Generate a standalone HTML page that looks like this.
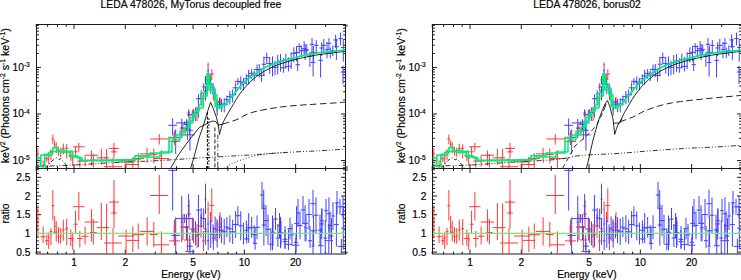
<!DOCTYPE html>
<html><head><meta charset="utf-8"><style>
html,body{margin:0;padding:0;background:#fff;}
svg{display:block;font-family:"Liberation Sans",sans-serif;}
text{fill:#000;stroke:#000;stroke-width:0.18px;}
</style></head><body>
<svg width="741" height="280" viewBox="0 0 741 280">
<rect width="741" height="280" fill="#fff"/>
<rect x="36.5" y="24.5" width="309.0" height="229.5" fill="none" stroke="#1a1a1a" stroke-width="1"/>
<line x1="36.50" y1="168.50" x2="345.50" y2="168.50" stroke="#1a1a1a" stroke-width="1"/>
<line x1="36.21" y1="24.50" x2="36.21" y2="26.90" stroke="#1a1a1a" stroke-width="1"/>
<line x1="36.21" y1="168.50" x2="36.21" y2="166.10" stroke="#1a1a1a" stroke-width="1"/>
<line x1="36.21" y1="168.50" x2="36.21" y2="170.90" stroke="#1a1a1a" stroke-width="1"/>
<line x1="36.21" y1="254.00" x2="36.21" y2="251.60" stroke="#1a1a1a" stroke-width="1"/>
<line x1="47.61" y1="24.50" x2="47.61" y2="26.90" stroke="#1a1a1a" stroke-width="1"/>
<line x1="47.61" y1="168.50" x2="47.61" y2="166.10" stroke="#1a1a1a" stroke-width="1"/>
<line x1="47.61" y1="168.50" x2="47.61" y2="170.90" stroke="#1a1a1a" stroke-width="1"/>
<line x1="47.61" y1="254.00" x2="47.61" y2="251.60" stroke="#1a1a1a" stroke-width="1"/>
<line x1="57.49" y1="24.50" x2="57.49" y2="26.90" stroke="#1a1a1a" stroke-width="1"/>
<line x1="57.49" y1="168.50" x2="57.49" y2="166.10" stroke="#1a1a1a" stroke-width="1"/>
<line x1="57.49" y1="168.50" x2="57.49" y2="170.90" stroke="#1a1a1a" stroke-width="1"/>
<line x1="57.49" y1="254.00" x2="57.49" y2="251.60" stroke="#1a1a1a" stroke-width="1"/>
<line x1="66.21" y1="24.50" x2="66.21" y2="26.90" stroke="#1a1a1a" stroke-width="1"/>
<line x1="66.21" y1="168.50" x2="66.21" y2="166.10" stroke="#1a1a1a" stroke-width="1"/>
<line x1="66.21" y1="168.50" x2="66.21" y2="170.90" stroke="#1a1a1a" stroke-width="1"/>
<line x1="66.21" y1="254.00" x2="66.21" y2="251.60" stroke="#1a1a1a" stroke-width="1"/>
<line x1="74.00" y1="24.50" x2="74.00" y2="29.00" stroke="#1a1a1a" stroke-width="1"/>
<line x1="74.00" y1="168.50" x2="74.00" y2="164.00" stroke="#1a1a1a" stroke-width="1"/>
<line x1="74.00" y1="168.50" x2="74.00" y2="173.00" stroke="#1a1a1a" stroke-width="1"/>
<line x1="74.00" y1="254.00" x2="74.00" y2="249.50" stroke="#1a1a1a" stroke-width="1"/>
<line x1="125.28" y1="24.50" x2="125.28" y2="29.00" stroke="#1a1a1a" stroke-width="1"/>
<line x1="125.28" y1="168.50" x2="125.28" y2="164.00" stroke="#1a1a1a" stroke-width="1"/>
<line x1="125.28" y1="168.50" x2="125.28" y2="173.00" stroke="#1a1a1a" stroke-width="1"/>
<line x1="125.28" y1="254.00" x2="125.28" y2="249.50" stroke="#1a1a1a" stroke-width="1"/>
<line x1="155.28" y1="24.50" x2="155.28" y2="26.90" stroke="#1a1a1a" stroke-width="1"/>
<line x1="155.28" y1="168.50" x2="155.28" y2="166.10" stroke="#1a1a1a" stroke-width="1"/>
<line x1="155.28" y1="168.50" x2="155.28" y2="170.90" stroke="#1a1a1a" stroke-width="1"/>
<line x1="155.28" y1="254.00" x2="155.28" y2="251.60" stroke="#1a1a1a" stroke-width="1"/>
<line x1="176.56" y1="24.50" x2="176.56" y2="26.90" stroke="#1a1a1a" stroke-width="1"/>
<line x1="176.56" y1="168.50" x2="176.56" y2="166.10" stroke="#1a1a1a" stroke-width="1"/>
<line x1="176.56" y1="168.50" x2="176.56" y2="170.90" stroke="#1a1a1a" stroke-width="1"/>
<line x1="176.56" y1="254.00" x2="176.56" y2="251.60" stroke="#1a1a1a" stroke-width="1"/>
<line x1="193.07" y1="24.50" x2="193.07" y2="29.00" stroke="#1a1a1a" stroke-width="1"/>
<line x1="193.07" y1="168.50" x2="193.07" y2="164.00" stroke="#1a1a1a" stroke-width="1"/>
<line x1="193.07" y1="168.50" x2="193.07" y2="173.00" stroke="#1a1a1a" stroke-width="1"/>
<line x1="193.07" y1="254.00" x2="193.07" y2="249.50" stroke="#1a1a1a" stroke-width="1"/>
<line x1="206.56" y1="24.50" x2="206.56" y2="26.90" stroke="#1a1a1a" stroke-width="1"/>
<line x1="206.56" y1="168.50" x2="206.56" y2="166.10" stroke="#1a1a1a" stroke-width="1"/>
<line x1="206.56" y1="168.50" x2="206.56" y2="170.90" stroke="#1a1a1a" stroke-width="1"/>
<line x1="206.56" y1="254.00" x2="206.56" y2="251.60" stroke="#1a1a1a" stroke-width="1"/>
<line x1="217.96" y1="24.50" x2="217.96" y2="26.90" stroke="#1a1a1a" stroke-width="1"/>
<line x1="217.96" y1="168.50" x2="217.96" y2="166.10" stroke="#1a1a1a" stroke-width="1"/>
<line x1="217.96" y1="168.50" x2="217.96" y2="170.90" stroke="#1a1a1a" stroke-width="1"/>
<line x1="217.96" y1="254.00" x2="217.96" y2="251.60" stroke="#1a1a1a" stroke-width="1"/>
<line x1="227.84" y1="24.50" x2="227.84" y2="26.90" stroke="#1a1a1a" stroke-width="1"/>
<line x1="227.84" y1="168.50" x2="227.84" y2="166.10" stroke="#1a1a1a" stroke-width="1"/>
<line x1="227.84" y1="168.50" x2="227.84" y2="170.90" stroke="#1a1a1a" stroke-width="1"/>
<line x1="227.84" y1="254.00" x2="227.84" y2="251.60" stroke="#1a1a1a" stroke-width="1"/>
<line x1="236.56" y1="24.50" x2="236.56" y2="26.90" stroke="#1a1a1a" stroke-width="1"/>
<line x1="236.56" y1="168.50" x2="236.56" y2="166.10" stroke="#1a1a1a" stroke-width="1"/>
<line x1="236.56" y1="168.50" x2="236.56" y2="170.90" stroke="#1a1a1a" stroke-width="1"/>
<line x1="236.56" y1="254.00" x2="236.56" y2="251.60" stroke="#1a1a1a" stroke-width="1"/>
<line x1="244.35" y1="24.50" x2="244.35" y2="29.00" stroke="#1a1a1a" stroke-width="1"/>
<line x1="244.35" y1="168.50" x2="244.35" y2="164.00" stroke="#1a1a1a" stroke-width="1"/>
<line x1="244.35" y1="168.50" x2="244.35" y2="173.00" stroke="#1a1a1a" stroke-width="1"/>
<line x1="244.35" y1="254.00" x2="244.35" y2="249.50" stroke="#1a1a1a" stroke-width="1"/>
<line x1="295.63" y1="24.50" x2="295.63" y2="29.00" stroke="#1a1a1a" stroke-width="1"/>
<line x1="295.63" y1="168.50" x2="295.63" y2="164.00" stroke="#1a1a1a" stroke-width="1"/>
<line x1="295.63" y1="168.50" x2="295.63" y2="173.00" stroke="#1a1a1a" stroke-width="1"/>
<line x1="295.63" y1="254.00" x2="295.63" y2="249.50" stroke="#1a1a1a" stroke-width="1"/>
<line x1="325.63" y1="24.50" x2="325.63" y2="26.90" stroke="#1a1a1a" stroke-width="1"/>
<line x1="325.63" y1="168.50" x2="325.63" y2="166.10" stroke="#1a1a1a" stroke-width="1"/>
<line x1="325.63" y1="168.50" x2="325.63" y2="170.90" stroke="#1a1a1a" stroke-width="1"/>
<line x1="325.63" y1="254.00" x2="325.63" y2="251.60" stroke="#1a1a1a" stroke-width="1"/>
<line x1="346.91" y1="24.50" x2="346.91" y2="26.90" stroke="#1a1a1a" stroke-width="1"/>
<line x1="346.91" y1="168.50" x2="346.91" y2="166.10" stroke="#1a1a1a" stroke-width="1"/>
<line x1="346.91" y1="168.50" x2="346.91" y2="170.90" stroke="#1a1a1a" stroke-width="1"/>
<line x1="346.91" y1="254.00" x2="346.91" y2="251.60" stroke="#1a1a1a" stroke-width="1"/>
<text x="74.00" y="265.70" text-anchor="middle" font-size="10.2" >1</text>
<text x="125.28" y="265.70" text-anchor="middle" font-size="10.2" >2</text>
<text x="193.07" y="265.70" text-anchor="middle" font-size="10.2" >5</text>
<text x="244.35" y="265.70" text-anchor="middle" font-size="10.2" >10</text>
<text x="295.63" y="265.70" text-anchor="middle" font-size="10.2" >20</text>
<text x="191.00" y="277.80" text-anchor="middle" font-size="10.2" >Energy (keV)</text>
<text x="191.00" y="7.80" text-anchor="middle" font-size="10.4" >LEDA 478026, MyTorus decoupled free</text>
<line x1="36.50" y1="167.76" x2="38.90" y2="167.76" stroke="#1a1a1a" stroke-width="1"/>
<line x1="345.50" y1="167.76" x2="343.10" y2="167.76" stroke="#1a1a1a" stroke-width="1"/>
<line x1="36.50" y1="165.06" x2="38.90" y2="165.06" stroke="#1a1a1a" stroke-width="1"/>
<line x1="345.50" y1="165.06" x2="343.10" y2="165.06" stroke="#1a1a1a" stroke-width="1"/>
<line x1="36.50" y1="162.68" x2="38.90" y2="162.68" stroke="#1a1a1a" stroke-width="1"/>
<line x1="345.50" y1="162.68" x2="343.10" y2="162.68" stroke="#1a1a1a" stroke-width="1"/>
<line x1="36.50" y1="160.55" x2="41.00" y2="160.55" stroke="#1a1a1a" stroke-width="1"/>
<line x1="345.50" y1="160.55" x2="341.00" y2="160.55" stroke="#1a1a1a" stroke-width="1"/>
<line x1="36.50" y1="146.54" x2="38.90" y2="146.54" stroke="#1a1a1a" stroke-width="1"/>
<line x1="345.50" y1="146.54" x2="343.10" y2="146.54" stroke="#1a1a1a" stroke-width="1"/>
<line x1="36.50" y1="138.34" x2="38.90" y2="138.34" stroke="#1a1a1a" stroke-width="1"/>
<line x1="345.50" y1="138.34" x2="343.10" y2="138.34" stroke="#1a1a1a" stroke-width="1"/>
<line x1="36.50" y1="132.52" x2="38.90" y2="132.52" stroke="#1a1a1a" stroke-width="1"/>
<line x1="345.50" y1="132.52" x2="343.10" y2="132.52" stroke="#1a1a1a" stroke-width="1"/>
<line x1="36.50" y1="128.01" x2="38.90" y2="128.01" stroke="#1a1a1a" stroke-width="1"/>
<line x1="345.50" y1="128.01" x2="343.10" y2="128.01" stroke="#1a1a1a" stroke-width="1"/>
<line x1="36.50" y1="124.33" x2="38.90" y2="124.33" stroke="#1a1a1a" stroke-width="1"/>
<line x1="345.50" y1="124.33" x2="343.10" y2="124.33" stroke="#1a1a1a" stroke-width="1"/>
<line x1="36.50" y1="121.21" x2="38.90" y2="121.21" stroke="#1a1a1a" stroke-width="1"/>
<line x1="345.50" y1="121.21" x2="343.10" y2="121.21" stroke="#1a1a1a" stroke-width="1"/>
<line x1="36.50" y1="118.51" x2="38.90" y2="118.51" stroke="#1a1a1a" stroke-width="1"/>
<line x1="345.50" y1="118.51" x2="343.10" y2="118.51" stroke="#1a1a1a" stroke-width="1"/>
<line x1="36.50" y1="116.13" x2="38.90" y2="116.13" stroke="#1a1a1a" stroke-width="1"/>
<line x1="345.50" y1="116.13" x2="343.10" y2="116.13" stroke="#1a1a1a" stroke-width="1"/>
<line x1="36.50" y1="114.00" x2="41.00" y2="114.00" stroke="#1a1a1a" stroke-width="1"/>
<line x1="345.50" y1="114.00" x2="341.00" y2="114.00" stroke="#1a1a1a" stroke-width="1"/>
<line x1="36.50" y1="99.99" x2="38.90" y2="99.99" stroke="#1a1a1a" stroke-width="1"/>
<line x1="345.50" y1="99.99" x2="343.10" y2="99.99" stroke="#1a1a1a" stroke-width="1"/>
<line x1="36.50" y1="91.79" x2="38.90" y2="91.79" stroke="#1a1a1a" stroke-width="1"/>
<line x1="345.50" y1="91.79" x2="343.10" y2="91.79" stroke="#1a1a1a" stroke-width="1"/>
<line x1="36.50" y1="85.97" x2="38.90" y2="85.97" stroke="#1a1a1a" stroke-width="1"/>
<line x1="345.50" y1="85.97" x2="343.10" y2="85.97" stroke="#1a1a1a" stroke-width="1"/>
<line x1="36.50" y1="81.46" x2="38.90" y2="81.46" stroke="#1a1a1a" stroke-width="1"/>
<line x1="345.50" y1="81.46" x2="343.10" y2="81.46" stroke="#1a1a1a" stroke-width="1"/>
<line x1="36.50" y1="77.78" x2="38.90" y2="77.78" stroke="#1a1a1a" stroke-width="1"/>
<line x1="345.50" y1="77.78" x2="343.10" y2="77.78" stroke="#1a1a1a" stroke-width="1"/>
<line x1="36.50" y1="74.66" x2="38.90" y2="74.66" stroke="#1a1a1a" stroke-width="1"/>
<line x1="345.50" y1="74.66" x2="343.10" y2="74.66" stroke="#1a1a1a" stroke-width="1"/>
<line x1="36.50" y1="71.96" x2="38.90" y2="71.96" stroke="#1a1a1a" stroke-width="1"/>
<line x1="345.50" y1="71.96" x2="343.10" y2="71.96" stroke="#1a1a1a" stroke-width="1"/>
<line x1="36.50" y1="69.58" x2="38.90" y2="69.58" stroke="#1a1a1a" stroke-width="1"/>
<line x1="345.50" y1="69.58" x2="343.10" y2="69.58" stroke="#1a1a1a" stroke-width="1"/>
<line x1="36.50" y1="67.45" x2="41.00" y2="67.45" stroke="#1a1a1a" stroke-width="1"/>
<line x1="345.50" y1="67.45" x2="341.00" y2="67.45" stroke="#1a1a1a" stroke-width="1"/>
<line x1="36.50" y1="53.44" x2="38.90" y2="53.44" stroke="#1a1a1a" stroke-width="1"/>
<line x1="345.50" y1="53.44" x2="343.10" y2="53.44" stroke="#1a1a1a" stroke-width="1"/>
<line x1="36.50" y1="45.24" x2="38.90" y2="45.24" stroke="#1a1a1a" stroke-width="1"/>
<line x1="345.50" y1="45.24" x2="343.10" y2="45.24" stroke="#1a1a1a" stroke-width="1"/>
<line x1="36.50" y1="39.42" x2="38.90" y2="39.42" stroke="#1a1a1a" stroke-width="1"/>
<line x1="345.50" y1="39.42" x2="343.10" y2="39.42" stroke="#1a1a1a" stroke-width="1"/>
<line x1="36.50" y1="34.91" x2="38.90" y2="34.91" stroke="#1a1a1a" stroke-width="1"/>
<line x1="345.50" y1="34.91" x2="343.10" y2="34.91" stroke="#1a1a1a" stroke-width="1"/>
<line x1="36.50" y1="31.23" x2="38.90" y2="31.23" stroke="#1a1a1a" stroke-width="1"/>
<line x1="345.50" y1="31.23" x2="343.10" y2="31.23" stroke="#1a1a1a" stroke-width="1"/>
<line x1="36.50" y1="28.11" x2="38.90" y2="28.11" stroke="#1a1a1a" stroke-width="1"/>
<line x1="345.50" y1="28.11" x2="343.10" y2="28.11" stroke="#1a1a1a" stroke-width="1"/>
<line x1="36.50" y1="25.41" x2="38.90" y2="25.41" stroke="#1a1a1a" stroke-width="1"/>
<line x1="345.50" y1="25.41" x2="343.10" y2="25.41" stroke="#1a1a1a" stroke-width="1"/>
<text x="29.70" y="70.65" text-anchor="end" font-size="10.2">10<tspan font-size="6.6" dy="-3.4">-3</tspan></text>
<text x="29.70" y="117.20" text-anchor="end" font-size="10.2">10<tspan font-size="6.6" dy="-3.4">-4</tspan></text>
<text x="29.70" y="163.75" text-anchor="end" font-size="10.2">10<tspan font-size="6.6" dy="-3.4">-5</tspan></text>
<line x1="36.50" y1="252.10" x2="41.00" y2="252.10" stroke="#1a1a1a" stroke-width="1"/>
<line x1="345.50" y1="252.10" x2="341.00" y2="252.10" stroke="#1a1a1a" stroke-width="1"/>
<line x1="36.50" y1="248.36" x2="38.90" y2="248.36" stroke="#1a1a1a" stroke-width="1"/>
<line x1="345.50" y1="248.36" x2="343.10" y2="248.36" stroke="#1a1a1a" stroke-width="1"/>
<line x1="36.50" y1="244.62" x2="38.90" y2="244.62" stroke="#1a1a1a" stroke-width="1"/>
<line x1="345.50" y1="244.62" x2="343.10" y2="244.62" stroke="#1a1a1a" stroke-width="1"/>
<line x1="36.50" y1="240.88" x2="38.90" y2="240.88" stroke="#1a1a1a" stroke-width="1"/>
<line x1="345.50" y1="240.88" x2="343.10" y2="240.88" stroke="#1a1a1a" stroke-width="1"/>
<line x1="36.50" y1="237.14" x2="38.90" y2="237.14" stroke="#1a1a1a" stroke-width="1"/>
<line x1="345.50" y1="237.14" x2="343.10" y2="237.14" stroke="#1a1a1a" stroke-width="1"/>
<line x1="36.50" y1="233.40" x2="41.00" y2="233.40" stroke="#1a1a1a" stroke-width="1"/>
<line x1="345.50" y1="233.40" x2="341.00" y2="233.40" stroke="#1a1a1a" stroke-width="1"/>
<line x1="36.50" y1="229.66" x2="38.90" y2="229.66" stroke="#1a1a1a" stroke-width="1"/>
<line x1="345.50" y1="229.66" x2="343.10" y2="229.66" stroke="#1a1a1a" stroke-width="1"/>
<line x1="36.50" y1="225.92" x2="38.90" y2="225.92" stroke="#1a1a1a" stroke-width="1"/>
<line x1="345.50" y1="225.92" x2="343.10" y2="225.92" stroke="#1a1a1a" stroke-width="1"/>
<line x1="36.50" y1="222.18" x2="38.90" y2="222.18" stroke="#1a1a1a" stroke-width="1"/>
<line x1="345.50" y1="222.18" x2="343.10" y2="222.18" stroke="#1a1a1a" stroke-width="1"/>
<line x1="36.50" y1="218.44" x2="38.90" y2="218.44" stroke="#1a1a1a" stroke-width="1"/>
<line x1="345.50" y1="218.44" x2="343.10" y2="218.44" stroke="#1a1a1a" stroke-width="1"/>
<line x1="36.50" y1="214.70" x2="41.00" y2="214.70" stroke="#1a1a1a" stroke-width="1"/>
<line x1="345.50" y1="214.70" x2="341.00" y2="214.70" stroke="#1a1a1a" stroke-width="1"/>
<line x1="36.50" y1="210.96" x2="38.90" y2="210.96" stroke="#1a1a1a" stroke-width="1"/>
<line x1="345.50" y1="210.96" x2="343.10" y2="210.96" stroke="#1a1a1a" stroke-width="1"/>
<line x1="36.50" y1="207.22" x2="38.90" y2="207.22" stroke="#1a1a1a" stroke-width="1"/>
<line x1="345.50" y1="207.22" x2="343.10" y2="207.22" stroke="#1a1a1a" stroke-width="1"/>
<line x1="36.50" y1="203.48" x2="38.90" y2="203.48" stroke="#1a1a1a" stroke-width="1"/>
<line x1="345.50" y1="203.48" x2="343.10" y2="203.48" stroke="#1a1a1a" stroke-width="1"/>
<line x1="36.50" y1="199.74" x2="38.90" y2="199.74" stroke="#1a1a1a" stroke-width="1"/>
<line x1="345.50" y1="199.74" x2="343.10" y2="199.74" stroke="#1a1a1a" stroke-width="1"/>
<line x1="36.50" y1="196.00" x2="41.00" y2="196.00" stroke="#1a1a1a" stroke-width="1"/>
<line x1="345.50" y1="196.00" x2="341.00" y2="196.00" stroke="#1a1a1a" stroke-width="1"/>
<line x1="36.50" y1="192.26" x2="38.90" y2="192.26" stroke="#1a1a1a" stroke-width="1"/>
<line x1="345.50" y1="192.26" x2="343.10" y2="192.26" stroke="#1a1a1a" stroke-width="1"/>
<line x1="36.50" y1="188.52" x2="38.90" y2="188.52" stroke="#1a1a1a" stroke-width="1"/>
<line x1="345.50" y1="188.52" x2="343.10" y2="188.52" stroke="#1a1a1a" stroke-width="1"/>
<line x1="36.50" y1="184.78" x2="38.90" y2="184.78" stroke="#1a1a1a" stroke-width="1"/>
<line x1="345.50" y1="184.78" x2="343.10" y2="184.78" stroke="#1a1a1a" stroke-width="1"/>
<line x1="36.50" y1="181.04" x2="38.90" y2="181.04" stroke="#1a1a1a" stroke-width="1"/>
<line x1="345.50" y1="181.04" x2="343.10" y2="181.04" stroke="#1a1a1a" stroke-width="1"/>
<line x1="36.50" y1="177.30" x2="41.00" y2="177.30" stroke="#1a1a1a" stroke-width="1"/>
<line x1="345.50" y1="177.30" x2="341.00" y2="177.30" stroke="#1a1a1a" stroke-width="1"/>
<line x1="36.50" y1="173.56" x2="38.90" y2="173.56" stroke="#1a1a1a" stroke-width="1"/>
<line x1="345.50" y1="173.56" x2="343.10" y2="173.56" stroke="#1a1a1a" stroke-width="1"/>
<line x1="36.50" y1="169.82" x2="38.90" y2="169.82" stroke="#1a1a1a" stroke-width="1"/>
<line x1="345.50" y1="169.82" x2="343.10" y2="169.82" stroke="#1a1a1a" stroke-width="1"/>
<text x="30.50" y="180.90" text-anchor="end" font-size="10.2" >2.5</text>
<text x="30.50" y="199.60" text-anchor="end" font-size="10.2" >2</text>
<text x="30.50" y="218.30" text-anchor="end" font-size="10.2" >1.5</text>
<text x="30.50" y="237.00" text-anchor="end" font-size="10.2" >1</text>
<text x="30.50" y="255.70" text-anchor="end" font-size="10.2" >0.5</text>
<text transform="translate(8.6,95.80) rotate(-90)" text-anchor="middle" font-size="10.55">keV<tspan font-size="6.8" dy="-3.6">2</tspan><tspan dy="3.6"> (Photons cm</tspan><tspan font-size="6.8" dy="-3.6">-2</tspan><tspan dy="3.6"> s</tspan><tspan font-size="6.8" dy="-3.6">-1</tspan><tspan dy="3.6"> keV</tspan><tspan font-size="6.8" dy="-3.6">-1</tspan><tspan dy="3.6">)</tspan></text>
<text transform="translate(8.6,213.50) rotate(-90)" text-anchor="middle" font-size="10.2">ratio</text>
<rect x="432.5" y="24.5" width="309.0" height="229.5" fill="none" stroke="#1a1a1a" stroke-width="1"/>
<line x1="432.50" y1="168.50" x2="741.50" y2="168.50" stroke="#1a1a1a" stroke-width="1"/>
<line x1="432.21" y1="24.50" x2="432.21" y2="26.90" stroke="#1a1a1a" stroke-width="1"/>
<line x1="432.21" y1="168.50" x2="432.21" y2="166.10" stroke="#1a1a1a" stroke-width="1"/>
<line x1="432.21" y1="168.50" x2="432.21" y2="170.90" stroke="#1a1a1a" stroke-width="1"/>
<line x1="432.21" y1="254.00" x2="432.21" y2="251.60" stroke="#1a1a1a" stroke-width="1"/>
<line x1="443.61" y1="24.50" x2="443.61" y2="26.90" stroke="#1a1a1a" stroke-width="1"/>
<line x1="443.61" y1="168.50" x2="443.61" y2="166.10" stroke="#1a1a1a" stroke-width="1"/>
<line x1="443.61" y1="168.50" x2="443.61" y2="170.90" stroke="#1a1a1a" stroke-width="1"/>
<line x1="443.61" y1="254.00" x2="443.61" y2="251.60" stroke="#1a1a1a" stroke-width="1"/>
<line x1="453.49" y1="24.50" x2="453.49" y2="26.90" stroke="#1a1a1a" stroke-width="1"/>
<line x1="453.49" y1="168.50" x2="453.49" y2="166.10" stroke="#1a1a1a" stroke-width="1"/>
<line x1="453.49" y1="168.50" x2="453.49" y2="170.90" stroke="#1a1a1a" stroke-width="1"/>
<line x1="453.49" y1="254.00" x2="453.49" y2="251.60" stroke="#1a1a1a" stroke-width="1"/>
<line x1="462.21" y1="24.50" x2="462.21" y2="26.90" stroke="#1a1a1a" stroke-width="1"/>
<line x1="462.21" y1="168.50" x2="462.21" y2="166.10" stroke="#1a1a1a" stroke-width="1"/>
<line x1="462.21" y1="168.50" x2="462.21" y2="170.90" stroke="#1a1a1a" stroke-width="1"/>
<line x1="462.21" y1="254.00" x2="462.21" y2="251.60" stroke="#1a1a1a" stroke-width="1"/>
<line x1="470.00" y1="24.50" x2="470.00" y2="29.00" stroke="#1a1a1a" stroke-width="1"/>
<line x1="470.00" y1="168.50" x2="470.00" y2="164.00" stroke="#1a1a1a" stroke-width="1"/>
<line x1="470.00" y1="168.50" x2="470.00" y2="173.00" stroke="#1a1a1a" stroke-width="1"/>
<line x1="470.00" y1="254.00" x2="470.00" y2="249.50" stroke="#1a1a1a" stroke-width="1"/>
<line x1="521.28" y1="24.50" x2="521.28" y2="29.00" stroke="#1a1a1a" stroke-width="1"/>
<line x1="521.28" y1="168.50" x2="521.28" y2="164.00" stroke="#1a1a1a" stroke-width="1"/>
<line x1="521.28" y1="168.50" x2="521.28" y2="173.00" stroke="#1a1a1a" stroke-width="1"/>
<line x1="521.28" y1="254.00" x2="521.28" y2="249.50" stroke="#1a1a1a" stroke-width="1"/>
<line x1="551.28" y1="24.50" x2="551.28" y2="26.90" stroke="#1a1a1a" stroke-width="1"/>
<line x1="551.28" y1="168.50" x2="551.28" y2="166.10" stroke="#1a1a1a" stroke-width="1"/>
<line x1="551.28" y1="168.50" x2="551.28" y2="170.90" stroke="#1a1a1a" stroke-width="1"/>
<line x1="551.28" y1="254.00" x2="551.28" y2="251.60" stroke="#1a1a1a" stroke-width="1"/>
<line x1="572.56" y1="24.50" x2="572.56" y2="26.90" stroke="#1a1a1a" stroke-width="1"/>
<line x1="572.56" y1="168.50" x2="572.56" y2="166.10" stroke="#1a1a1a" stroke-width="1"/>
<line x1="572.56" y1="168.50" x2="572.56" y2="170.90" stroke="#1a1a1a" stroke-width="1"/>
<line x1="572.56" y1="254.00" x2="572.56" y2="251.60" stroke="#1a1a1a" stroke-width="1"/>
<line x1="589.07" y1="24.50" x2="589.07" y2="29.00" stroke="#1a1a1a" stroke-width="1"/>
<line x1="589.07" y1="168.50" x2="589.07" y2="164.00" stroke="#1a1a1a" stroke-width="1"/>
<line x1="589.07" y1="168.50" x2="589.07" y2="173.00" stroke="#1a1a1a" stroke-width="1"/>
<line x1="589.07" y1="254.00" x2="589.07" y2="249.50" stroke="#1a1a1a" stroke-width="1"/>
<line x1="602.56" y1="24.50" x2="602.56" y2="26.90" stroke="#1a1a1a" stroke-width="1"/>
<line x1="602.56" y1="168.50" x2="602.56" y2="166.10" stroke="#1a1a1a" stroke-width="1"/>
<line x1="602.56" y1="168.50" x2="602.56" y2="170.90" stroke="#1a1a1a" stroke-width="1"/>
<line x1="602.56" y1="254.00" x2="602.56" y2="251.60" stroke="#1a1a1a" stroke-width="1"/>
<line x1="613.96" y1="24.50" x2="613.96" y2="26.90" stroke="#1a1a1a" stroke-width="1"/>
<line x1="613.96" y1="168.50" x2="613.96" y2="166.10" stroke="#1a1a1a" stroke-width="1"/>
<line x1="613.96" y1="168.50" x2="613.96" y2="170.90" stroke="#1a1a1a" stroke-width="1"/>
<line x1="613.96" y1="254.00" x2="613.96" y2="251.60" stroke="#1a1a1a" stroke-width="1"/>
<line x1="623.84" y1="24.50" x2="623.84" y2="26.90" stroke="#1a1a1a" stroke-width="1"/>
<line x1="623.84" y1="168.50" x2="623.84" y2="166.10" stroke="#1a1a1a" stroke-width="1"/>
<line x1="623.84" y1="168.50" x2="623.84" y2="170.90" stroke="#1a1a1a" stroke-width="1"/>
<line x1="623.84" y1="254.00" x2="623.84" y2="251.60" stroke="#1a1a1a" stroke-width="1"/>
<line x1="632.56" y1="24.50" x2="632.56" y2="26.90" stroke="#1a1a1a" stroke-width="1"/>
<line x1="632.56" y1="168.50" x2="632.56" y2="166.10" stroke="#1a1a1a" stroke-width="1"/>
<line x1="632.56" y1="168.50" x2="632.56" y2="170.90" stroke="#1a1a1a" stroke-width="1"/>
<line x1="632.56" y1="254.00" x2="632.56" y2="251.60" stroke="#1a1a1a" stroke-width="1"/>
<line x1="640.35" y1="24.50" x2="640.35" y2="29.00" stroke="#1a1a1a" stroke-width="1"/>
<line x1="640.35" y1="168.50" x2="640.35" y2="164.00" stroke="#1a1a1a" stroke-width="1"/>
<line x1="640.35" y1="168.50" x2="640.35" y2="173.00" stroke="#1a1a1a" stroke-width="1"/>
<line x1="640.35" y1="254.00" x2="640.35" y2="249.50" stroke="#1a1a1a" stroke-width="1"/>
<line x1="691.63" y1="24.50" x2="691.63" y2="29.00" stroke="#1a1a1a" stroke-width="1"/>
<line x1="691.63" y1="168.50" x2="691.63" y2="164.00" stroke="#1a1a1a" stroke-width="1"/>
<line x1="691.63" y1="168.50" x2="691.63" y2="173.00" stroke="#1a1a1a" stroke-width="1"/>
<line x1="691.63" y1="254.00" x2="691.63" y2="249.50" stroke="#1a1a1a" stroke-width="1"/>
<line x1="721.63" y1="24.50" x2="721.63" y2="26.90" stroke="#1a1a1a" stroke-width="1"/>
<line x1="721.63" y1="168.50" x2="721.63" y2="166.10" stroke="#1a1a1a" stroke-width="1"/>
<line x1="721.63" y1="168.50" x2="721.63" y2="170.90" stroke="#1a1a1a" stroke-width="1"/>
<line x1="721.63" y1="254.00" x2="721.63" y2="251.60" stroke="#1a1a1a" stroke-width="1"/>
<line x1="742.91" y1="24.50" x2="742.91" y2="26.90" stroke="#1a1a1a" stroke-width="1"/>
<line x1="742.91" y1="168.50" x2="742.91" y2="166.10" stroke="#1a1a1a" stroke-width="1"/>
<line x1="742.91" y1="168.50" x2="742.91" y2="170.90" stroke="#1a1a1a" stroke-width="1"/>
<line x1="742.91" y1="254.00" x2="742.91" y2="251.60" stroke="#1a1a1a" stroke-width="1"/>
<text x="470.00" y="265.70" text-anchor="middle" font-size="10.2" >1</text>
<text x="521.28" y="265.70" text-anchor="middle" font-size="10.2" >2</text>
<text x="589.07" y="265.70" text-anchor="middle" font-size="10.2" >5</text>
<text x="640.35" y="265.70" text-anchor="middle" font-size="10.2" >10</text>
<text x="691.63" y="265.70" text-anchor="middle" font-size="10.2" >20</text>
<text x="587.00" y="277.80" text-anchor="middle" font-size="10.2" >Energy (keV)</text>
<text x="587.00" y="7.80" text-anchor="middle" font-size="10.4" >LEDA 478026, borus02</text>
<line x1="432.50" y1="167.76" x2="434.90" y2="167.76" stroke="#1a1a1a" stroke-width="1"/>
<line x1="741.50" y1="167.76" x2="739.10" y2="167.76" stroke="#1a1a1a" stroke-width="1"/>
<line x1="432.50" y1="165.06" x2="434.90" y2="165.06" stroke="#1a1a1a" stroke-width="1"/>
<line x1="741.50" y1="165.06" x2="739.10" y2="165.06" stroke="#1a1a1a" stroke-width="1"/>
<line x1="432.50" y1="162.68" x2="434.90" y2="162.68" stroke="#1a1a1a" stroke-width="1"/>
<line x1="741.50" y1="162.68" x2="739.10" y2="162.68" stroke="#1a1a1a" stroke-width="1"/>
<line x1="432.50" y1="160.55" x2="437.00" y2="160.55" stroke="#1a1a1a" stroke-width="1"/>
<line x1="741.50" y1="160.55" x2="737.00" y2="160.55" stroke="#1a1a1a" stroke-width="1"/>
<line x1="432.50" y1="146.54" x2="434.90" y2="146.54" stroke="#1a1a1a" stroke-width="1"/>
<line x1="741.50" y1="146.54" x2="739.10" y2="146.54" stroke="#1a1a1a" stroke-width="1"/>
<line x1="432.50" y1="138.34" x2="434.90" y2="138.34" stroke="#1a1a1a" stroke-width="1"/>
<line x1="741.50" y1="138.34" x2="739.10" y2="138.34" stroke="#1a1a1a" stroke-width="1"/>
<line x1="432.50" y1="132.52" x2="434.90" y2="132.52" stroke="#1a1a1a" stroke-width="1"/>
<line x1="741.50" y1="132.52" x2="739.10" y2="132.52" stroke="#1a1a1a" stroke-width="1"/>
<line x1="432.50" y1="128.01" x2="434.90" y2="128.01" stroke="#1a1a1a" stroke-width="1"/>
<line x1="741.50" y1="128.01" x2="739.10" y2="128.01" stroke="#1a1a1a" stroke-width="1"/>
<line x1="432.50" y1="124.33" x2="434.90" y2="124.33" stroke="#1a1a1a" stroke-width="1"/>
<line x1="741.50" y1="124.33" x2="739.10" y2="124.33" stroke="#1a1a1a" stroke-width="1"/>
<line x1="432.50" y1="121.21" x2="434.90" y2="121.21" stroke="#1a1a1a" stroke-width="1"/>
<line x1="741.50" y1="121.21" x2="739.10" y2="121.21" stroke="#1a1a1a" stroke-width="1"/>
<line x1="432.50" y1="118.51" x2="434.90" y2="118.51" stroke="#1a1a1a" stroke-width="1"/>
<line x1="741.50" y1="118.51" x2="739.10" y2="118.51" stroke="#1a1a1a" stroke-width="1"/>
<line x1="432.50" y1="116.13" x2="434.90" y2="116.13" stroke="#1a1a1a" stroke-width="1"/>
<line x1="741.50" y1="116.13" x2="739.10" y2="116.13" stroke="#1a1a1a" stroke-width="1"/>
<line x1="432.50" y1="114.00" x2="437.00" y2="114.00" stroke="#1a1a1a" stroke-width="1"/>
<line x1="741.50" y1="114.00" x2="737.00" y2="114.00" stroke="#1a1a1a" stroke-width="1"/>
<line x1="432.50" y1="99.99" x2="434.90" y2="99.99" stroke="#1a1a1a" stroke-width="1"/>
<line x1="741.50" y1="99.99" x2="739.10" y2="99.99" stroke="#1a1a1a" stroke-width="1"/>
<line x1="432.50" y1="91.79" x2="434.90" y2="91.79" stroke="#1a1a1a" stroke-width="1"/>
<line x1="741.50" y1="91.79" x2="739.10" y2="91.79" stroke="#1a1a1a" stroke-width="1"/>
<line x1="432.50" y1="85.97" x2="434.90" y2="85.97" stroke="#1a1a1a" stroke-width="1"/>
<line x1="741.50" y1="85.97" x2="739.10" y2="85.97" stroke="#1a1a1a" stroke-width="1"/>
<line x1="432.50" y1="81.46" x2="434.90" y2="81.46" stroke="#1a1a1a" stroke-width="1"/>
<line x1="741.50" y1="81.46" x2="739.10" y2="81.46" stroke="#1a1a1a" stroke-width="1"/>
<line x1="432.50" y1="77.78" x2="434.90" y2="77.78" stroke="#1a1a1a" stroke-width="1"/>
<line x1="741.50" y1="77.78" x2="739.10" y2="77.78" stroke="#1a1a1a" stroke-width="1"/>
<line x1="432.50" y1="74.66" x2="434.90" y2="74.66" stroke="#1a1a1a" stroke-width="1"/>
<line x1="741.50" y1="74.66" x2="739.10" y2="74.66" stroke="#1a1a1a" stroke-width="1"/>
<line x1="432.50" y1="71.96" x2="434.90" y2="71.96" stroke="#1a1a1a" stroke-width="1"/>
<line x1="741.50" y1="71.96" x2="739.10" y2="71.96" stroke="#1a1a1a" stroke-width="1"/>
<line x1="432.50" y1="69.58" x2="434.90" y2="69.58" stroke="#1a1a1a" stroke-width="1"/>
<line x1="741.50" y1="69.58" x2="739.10" y2="69.58" stroke="#1a1a1a" stroke-width="1"/>
<line x1="432.50" y1="67.45" x2="437.00" y2="67.45" stroke="#1a1a1a" stroke-width="1"/>
<line x1="741.50" y1="67.45" x2="737.00" y2="67.45" stroke="#1a1a1a" stroke-width="1"/>
<line x1="432.50" y1="53.44" x2="434.90" y2="53.44" stroke="#1a1a1a" stroke-width="1"/>
<line x1="741.50" y1="53.44" x2="739.10" y2="53.44" stroke="#1a1a1a" stroke-width="1"/>
<line x1="432.50" y1="45.24" x2="434.90" y2="45.24" stroke="#1a1a1a" stroke-width="1"/>
<line x1="741.50" y1="45.24" x2="739.10" y2="45.24" stroke="#1a1a1a" stroke-width="1"/>
<line x1="432.50" y1="39.42" x2="434.90" y2="39.42" stroke="#1a1a1a" stroke-width="1"/>
<line x1="741.50" y1="39.42" x2="739.10" y2="39.42" stroke="#1a1a1a" stroke-width="1"/>
<line x1="432.50" y1="34.91" x2="434.90" y2="34.91" stroke="#1a1a1a" stroke-width="1"/>
<line x1="741.50" y1="34.91" x2="739.10" y2="34.91" stroke="#1a1a1a" stroke-width="1"/>
<line x1="432.50" y1="31.23" x2="434.90" y2="31.23" stroke="#1a1a1a" stroke-width="1"/>
<line x1="741.50" y1="31.23" x2="739.10" y2="31.23" stroke="#1a1a1a" stroke-width="1"/>
<line x1="432.50" y1="28.11" x2="434.90" y2="28.11" stroke="#1a1a1a" stroke-width="1"/>
<line x1="741.50" y1="28.11" x2="739.10" y2="28.11" stroke="#1a1a1a" stroke-width="1"/>
<line x1="432.50" y1="25.41" x2="434.90" y2="25.41" stroke="#1a1a1a" stroke-width="1"/>
<line x1="741.50" y1="25.41" x2="739.10" y2="25.41" stroke="#1a1a1a" stroke-width="1"/>
<text x="425.70" y="70.65" text-anchor="end" font-size="10.2">10<tspan font-size="6.6" dy="-3.4">-3</tspan></text>
<text x="425.70" y="117.20" text-anchor="end" font-size="10.2">10<tspan font-size="6.6" dy="-3.4">-4</tspan></text>
<text x="425.70" y="163.75" text-anchor="end" font-size="10.2">10<tspan font-size="6.6" dy="-3.4">-5</tspan></text>
<line x1="432.50" y1="252.10" x2="437.00" y2="252.10" stroke="#1a1a1a" stroke-width="1"/>
<line x1="741.50" y1="252.10" x2="737.00" y2="252.10" stroke="#1a1a1a" stroke-width="1"/>
<line x1="432.50" y1="248.36" x2="434.90" y2="248.36" stroke="#1a1a1a" stroke-width="1"/>
<line x1="741.50" y1="248.36" x2="739.10" y2="248.36" stroke="#1a1a1a" stroke-width="1"/>
<line x1="432.50" y1="244.62" x2="434.90" y2="244.62" stroke="#1a1a1a" stroke-width="1"/>
<line x1="741.50" y1="244.62" x2="739.10" y2="244.62" stroke="#1a1a1a" stroke-width="1"/>
<line x1="432.50" y1="240.88" x2="434.90" y2="240.88" stroke="#1a1a1a" stroke-width="1"/>
<line x1="741.50" y1="240.88" x2="739.10" y2="240.88" stroke="#1a1a1a" stroke-width="1"/>
<line x1="432.50" y1="237.14" x2="434.90" y2="237.14" stroke="#1a1a1a" stroke-width="1"/>
<line x1="741.50" y1="237.14" x2="739.10" y2="237.14" stroke="#1a1a1a" stroke-width="1"/>
<line x1="432.50" y1="233.40" x2="437.00" y2="233.40" stroke="#1a1a1a" stroke-width="1"/>
<line x1="741.50" y1="233.40" x2="737.00" y2="233.40" stroke="#1a1a1a" stroke-width="1"/>
<line x1="432.50" y1="229.66" x2="434.90" y2="229.66" stroke="#1a1a1a" stroke-width="1"/>
<line x1="741.50" y1="229.66" x2="739.10" y2="229.66" stroke="#1a1a1a" stroke-width="1"/>
<line x1="432.50" y1="225.92" x2="434.90" y2="225.92" stroke="#1a1a1a" stroke-width="1"/>
<line x1="741.50" y1="225.92" x2="739.10" y2="225.92" stroke="#1a1a1a" stroke-width="1"/>
<line x1="432.50" y1="222.18" x2="434.90" y2="222.18" stroke="#1a1a1a" stroke-width="1"/>
<line x1="741.50" y1="222.18" x2="739.10" y2="222.18" stroke="#1a1a1a" stroke-width="1"/>
<line x1="432.50" y1="218.44" x2="434.90" y2="218.44" stroke="#1a1a1a" stroke-width="1"/>
<line x1="741.50" y1="218.44" x2="739.10" y2="218.44" stroke="#1a1a1a" stroke-width="1"/>
<line x1="432.50" y1="214.70" x2="437.00" y2="214.70" stroke="#1a1a1a" stroke-width="1"/>
<line x1="741.50" y1="214.70" x2="737.00" y2="214.70" stroke="#1a1a1a" stroke-width="1"/>
<line x1="432.50" y1="210.96" x2="434.90" y2="210.96" stroke="#1a1a1a" stroke-width="1"/>
<line x1="741.50" y1="210.96" x2="739.10" y2="210.96" stroke="#1a1a1a" stroke-width="1"/>
<line x1="432.50" y1="207.22" x2="434.90" y2="207.22" stroke="#1a1a1a" stroke-width="1"/>
<line x1="741.50" y1="207.22" x2="739.10" y2="207.22" stroke="#1a1a1a" stroke-width="1"/>
<line x1="432.50" y1="203.48" x2="434.90" y2="203.48" stroke="#1a1a1a" stroke-width="1"/>
<line x1="741.50" y1="203.48" x2="739.10" y2="203.48" stroke="#1a1a1a" stroke-width="1"/>
<line x1="432.50" y1="199.74" x2="434.90" y2="199.74" stroke="#1a1a1a" stroke-width="1"/>
<line x1="741.50" y1="199.74" x2="739.10" y2="199.74" stroke="#1a1a1a" stroke-width="1"/>
<line x1="432.50" y1="196.00" x2="437.00" y2="196.00" stroke="#1a1a1a" stroke-width="1"/>
<line x1="741.50" y1="196.00" x2="737.00" y2="196.00" stroke="#1a1a1a" stroke-width="1"/>
<line x1="432.50" y1="192.26" x2="434.90" y2="192.26" stroke="#1a1a1a" stroke-width="1"/>
<line x1="741.50" y1="192.26" x2="739.10" y2="192.26" stroke="#1a1a1a" stroke-width="1"/>
<line x1="432.50" y1="188.52" x2="434.90" y2="188.52" stroke="#1a1a1a" stroke-width="1"/>
<line x1="741.50" y1="188.52" x2="739.10" y2="188.52" stroke="#1a1a1a" stroke-width="1"/>
<line x1="432.50" y1="184.78" x2="434.90" y2="184.78" stroke="#1a1a1a" stroke-width="1"/>
<line x1="741.50" y1="184.78" x2="739.10" y2="184.78" stroke="#1a1a1a" stroke-width="1"/>
<line x1="432.50" y1="181.04" x2="434.90" y2="181.04" stroke="#1a1a1a" stroke-width="1"/>
<line x1="741.50" y1="181.04" x2="739.10" y2="181.04" stroke="#1a1a1a" stroke-width="1"/>
<line x1="432.50" y1="177.30" x2="437.00" y2="177.30" stroke="#1a1a1a" stroke-width="1"/>
<line x1="741.50" y1="177.30" x2="737.00" y2="177.30" stroke="#1a1a1a" stroke-width="1"/>
<line x1="432.50" y1="173.56" x2="434.90" y2="173.56" stroke="#1a1a1a" stroke-width="1"/>
<line x1="741.50" y1="173.56" x2="739.10" y2="173.56" stroke="#1a1a1a" stroke-width="1"/>
<line x1="432.50" y1="169.82" x2="434.90" y2="169.82" stroke="#1a1a1a" stroke-width="1"/>
<line x1="741.50" y1="169.82" x2="739.10" y2="169.82" stroke="#1a1a1a" stroke-width="1"/>
<text x="426.50" y="180.90" text-anchor="end" font-size="10.2" >2.5</text>
<text x="426.50" y="199.60" text-anchor="end" font-size="10.2" >2</text>
<text x="426.50" y="218.30" text-anchor="end" font-size="10.2" >1.5</text>
<text x="426.50" y="237.00" text-anchor="end" font-size="10.2" >1</text>
<text x="426.50" y="255.70" text-anchor="end" font-size="10.2" >0.5</text>
<text transform="translate(404.6,95.80) rotate(-90)" text-anchor="middle" font-size="10.55">keV<tspan font-size="6.8" dy="-3.6">2</tspan><tspan dy="3.6"> (Photons cm</tspan><tspan font-size="6.8" dy="-3.6">-2</tspan><tspan dy="3.6"> s</tspan><tspan font-size="6.8" dy="-3.6">-1</tspan><tspan dy="3.6"> keV</tspan><tspan font-size="6.8" dy="-3.6">-1</tspan><tspan dy="3.6">)</tspan></text>
<text transform="translate(404.6,213.50) rotate(-90)" text-anchor="middle" font-size="10.2">ratio</text>
<defs>
<clipPath id="cu0"><rect x="36.5" y="24.5" width="309.0" height="144.0"/></clipPath>
<clipPath id="cr0"><rect x="36.5" y="168.5" width="309.0" height="85.5"/></clipPath>
<clipPath id="cu396"><rect x="432.5" y="24.5" width="309.0" height="144.0"/></clipPath>
<clipPath id="cr396"><rect x="432.5" y="168.5" width="309.0" height="85.5"/></clipPath>
</defs>
<g clip-path="url(#cr0)">
<path d="M36.70,221.20H39.00M37.85,205.70V237.00" stroke="rgb(255,55,55)" stroke-width="1.0" fill="none"/>
<path d="M40.50,236.70H45.70M43.10,226.50V243.00" stroke="rgb(255,55,55)" stroke-width="1.0" fill="none"/>
<path d="M45.00,240.70H48.70M46.85,234.70V245.20" stroke="rgb(255,55,55)" stroke-width="1.0" fill="none"/>
<path d="M48.00,237.70H49.50M48.75,232.50V249.00" stroke="rgb(255,55,55)" stroke-width="1.0" fill="none"/>
<path d="M49.50,231.70H52.50M51.00,228.00V245.20" stroke="rgb(255,55,55)" stroke-width="1.0" fill="none"/>
<path d="M51.40,205.70H54.30M52.85,190.00V220.50" stroke="rgb(255,55,55)" stroke-width="1.0" fill="none"/>
<path d="M53.80,226.50H55.60M54.70,216.00V234.00" stroke="rgb(255,55,55)" stroke-width="1.0" fill="none"/>
<path d="M54.00,232.20H58.50M56.25,221.20V241.50" stroke="rgb(255,55,55)" stroke-width="1.0" fill="none"/>
<path d="M57.50,237.00H59.50M58.50,227.20V243.00" stroke="rgb(255,55,55)" stroke-width="1.0" fill="none"/>
<path d="M59.70,236.00H61.70M60.70,228.00V243.70" stroke="rgb(255,55,55)" stroke-width="1.0" fill="none"/>
<path d="M62.00,230.00H64.60M63.30,219.70V240.70" stroke="rgb(255,55,55)" stroke-width="1.0" fill="none"/>
<path d="M65.20,228.70H68.20M66.70,219.00V245.20" stroke="rgb(255,55,55)" stroke-width="1.0" fill="none"/>
<path d="M68.20,238.50H73.50M70.85,229.50V246.00" stroke="rgb(255,55,55)" stroke-width="1.0" fill="none"/>
<path d="M71.70,240.00H73.70M72.70,232.50V249.70" stroke="rgb(255,55,55)" stroke-width="1.0" fill="none"/>
<path d="M73.50,224.20H77.70M75.60,210.70V234.00" stroke="rgb(255,55,55)" stroke-width="1.0" fill="none"/>
<path d="M73.10,206.70H84.60M78.85,192.10V220.50" stroke="rgb(255,55,55)" stroke-width="1.0" fill="none"/>
<path d="M77.20,238.50H82.50M79.85,231.00V247.50" stroke="rgb(255,55,55)" stroke-width="1.0" fill="none"/>
<path d="M81.70,236.20H88.50M85.10,226.50V244.50" stroke="rgb(255,55,55)" stroke-width="1.0" fill="none"/>
<path d="M84.70,222.00H98.20M91.45,209.30V241.50" stroke="rgb(255,55,55)" stroke-width="1.0" fill="none"/>
<path d="M90.00,232.50H96.70M93.35,219.00V244.50" stroke="rgb(255,55,55)" stroke-width="1.0" fill="none"/>
<path d="M96.70,227.70H106.00M101.35,202.90V240.00" stroke="rgb(255,55,55)" stroke-width="1.0" fill="none"/>
<path d="M104.00,227.50H109.20M106.60,203.60V255.00" stroke="rgb(255,55,55)" stroke-width="1.0" fill="none"/>
<path d="M109.00,202.10H119.00M114.00,180.00V215.00" stroke="rgb(255,55,55)" stroke-width="1.0" fill="none"/>
<path d="M111.10,212.90H116.90M114.00,200.00V228.00" stroke="rgb(255,55,55)" stroke-width="1.0" fill="none"/>
<path d="M104.00,243.00H122.00M113.00,228.00V255.00" stroke="rgb(255,55,55)" stroke-width="1.0" fill="none"/>
<path d="M118.20,236.00H134.00M126.10,229.50V253.50" stroke="rgb(255,55,55)" stroke-width="1.0" fill="none"/>
<path d="M126.50,240.40H139.20M132.85,226.50V252.00" stroke="rgb(255,55,55)" stroke-width="1.0" fill="none"/>
<path d="M132.50,234.70H144.00M138.25,223.50V249.00" stroke="rgb(255,55,55)" stroke-width="1.0" fill="none"/>
<path d="M140.00,231.40H154.20M147.10,217.30V245.60" stroke="rgb(255,55,55)" stroke-width="1.0" fill="none"/>
<path d="M150.20,195.50H168.30M159.25,175.10V214.00" stroke="rgb(255,55,55)" stroke-width="1.0" fill="none"/>
<path d="M150.00,234.60H157.60M153.80,222.00V247.20" stroke="rgb(255,55,55)" stroke-width="1.0" fill="none"/>
<path d="M153.80,244.80H169.10M161.45,231.40V255.00" stroke="rgb(255,55,55)" stroke-width="1.0" fill="none"/>
<path d="M169.00,240.90H180.00M174.50,219.60V245.60" stroke="rgb(255,55,55)" stroke-width="1.0" fill="none"/>
<path d="M168.30,233.50H180.00M174.15,225.00V242.00" stroke="rgb(255,55,55)" stroke-width="1.0" fill="none"/>
<path d="M180.00,227.00H186.00M183.00,214.00V240.00" stroke="rgb(255,55,55)" stroke-width="1.0" fill="none"/>
<path d="M184.00,240.00H191.00M187.50,226.00V252.00" stroke="rgb(255,55,55)" stroke-width="1.0" fill="none"/>
<path d="M187.00,214.00H191.00M189.00,200.20V228.00" stroke="rgb(255,55,55)" stroke-width="1.0" fill="none"/>
<path d="M191.00,231.00H196.00M193.50,219.00V243.00" stroke="rgb(255,55,55)" stroke-width="1.0" fill="none"/>
<path d="M195.00,236.00H199.00M197.00,224.00V248.00" stroke="rgb(255,55,55)" stroke-width="1.0" fill="none"/>
<path d="M199.00,226.00H203.00M201.00,214.00V238.00" stroke="rgb(255,55,55)" stroke-width="1.0" fill="none"/>
<path d="M202.00,241.00H205.00M203.50,231.00V251.00" stroke="rgb(255,55,55)" stroke-width="1.0" fill="none"/>
<path d="M204.00,229.00H207.00M205.50,219.00V240.00" stroke="rgb(255,55,55)" stroke-width="1.0" fill="none"/>
<path d="M207.40,209.10H208.80M208.10,201.60V216.60" stroke="rgb(255,55,55)" stroke-width="1.0" fill="none"/>
<path d="M209.50,222.00H211.50M210.50,212.00V233.00" stroke="rgb(255,55,55)" stroke-width="1.0" fill="none"/>
<path d="M209.40,205.40H214.20M211.80,188.40V222.00" stroke="rgb(255,55,55)" stroke-width="1.0" fill="none"/>
<path d="M212.00,238.00H215.00M213.50,227.00V250.00" stroke="rgb(255,55,55)" stroke-width="1.0" fill="none"/>
<path d="M215.00,230.00H219.00M217.00,219.00V242.00" stroke="rgb(255,55,55)" stroke-width="1.0" fill="none"/>
<path d="M218.00,224.00H222.00M220.00,212.00V236.00" stroke="rgb(255,55,55)" stroke-width="1.0" fill="none"/>
<path d="M183.72,227.27H189.28M186.50,214.42V240.12" stroke="rgb(65,65,255)" stroke-width="1.0" fill="none"/>
<path d="M186.54,246.11H192.85M189.69,234.70V250.23" stroke="rgb(65,65,255)" stroke-width="1.0" fill="none"/>
<path d="M189.14,229.00H195.50M192.32,217.57V240.43" stroke="rgb(65,65,255)" stroke-width="1.0" fill="none"/>
<path d="M193.13,233.35H197.74M195.44,221.37V245.33" stroke="rgb(65,65,255)" stroke-width="1.0" fill="none"/>
<path d="M196.45,234.14H200.49M198.47,221.15V247.12" stroke="rgb(65,65,255)" stroke-width="1.0" fill="none"/>
<path d="M200.12,217.61H202.36M201.24,207.91V227.31" stroke="rgb(65,65,255)" stroke-width="1.0" fill="none"/>
<path d="M202.22,218.65H205.15M203.68,208.58V228.73" stroke="rgb(65,65,255)" stroke-width="1.0" fill="none"/>
<path d="M204.42,231.39H206.74M205.58,217.84V244.93" stroke="rgb(65,65,255)" stroke-width="1.0" fill="none"/>
<path d="M206.95,240.81H209.39M208.17,230.76V250.23" stroke="rgb(65,65,255)" stroke-width="1.0" fill="none"/>
<path d="M209.03,233.86H212.44M210.74,219.83V247.90" stroke="rgb(65,65,255)" stroke-width="1.0" fill="none"/>
<path d="M211.42,233.99H214.76M213.09,224.25V243.73" stroke="rgb(65,65,255)" stroke-width="1.0" fill="none"/>
<path d="M214.08,228.60H216.18M215.13,216.46V240.73" stroke="rgb(65,65,255)" stroke-width="1.0" fill="none"/>
<path d="M216.17,234.40H218.17M217.17,221.14V247.66" stroke="rgb(65,65,255)" stroke-width="1.0" fill="none"/>
<path d="M218.15,226.87H220.87M219.51,215.37V238.36" stroke="rgb(65,65,255)" stroke-width="1.0" fill="none"/>
<path d="M218.69,230.18H224.45M221.57,217.28V243.08" stroke="rgb(65,65,255)" stroke-width="1.0" fill="none"/>
<path d="M221.16,231.74H227.27M224.21,218.64V244.84" stroke="rgb(65,65,255)" stroke-width="1.0" fill="none"/>
<path d="M224.37,227.18H229.28M226.83,217.12V237.24" stroke="rgb(65,65,255)" stroke-width="1.0" fill="none"/>
<path d="M226.69,228.81H233.08M229.89,215.31V242.31" stroke="rgb(65,65,255)" stroke-width="1.0" fill="none"/>
<path d="M229.48,231.85H235.81M232.65,219.73V243.96" stroke="rgb(65,65,255)" stroke-width="1.0" fill="none"/>
<path d="M232.63,224.56H238.57M235.60,211.10V238.01" stroke="rgb(65,65,255)" stroke-width="1.0" fill="none"/>
<path d="M234.89,215.72H240.88M237.89,206.20V225.25" stroke="rgb(65,65,255)" stroke-width="1.0" fill="none"/>
<path d="M238.35,225.82H243.20M240.77,211.35V240.29" stroke="rgb(65,65,255)" stroke-width="1.0" fill="none"/>
<path d="M241.04,233.57H245.89M243.46,222.70V244.45" stroke="rgb(65,65,255)" stroke-width="1.0" fill="none"/>
<path d="M244.18,230.27H248.62M246.40,220.40V240.14" stroke="rgb(65,65,255)" stroke-width="1.0" fill="none"/>
<path d="M245.80,227.98H251.53M248.66,213.10V242.86" stroke="rgb(65,65,255)" stroke-width="1.0" fill="none"/>
<path d="M248.99,227.41H254.33M251.66,217.01V237.80" stroke="rgb(65,65,255)" stroke-width="1.0" fill="none"/>
<path d="M251.44,234.56H256.93M254.19,225.25V243.87" stroke="rgb(65,65,255)" stroke-width="1.0" fill="none"/>
<path d="M253.90,227.30H260.19M257.05,215.37V239.23" stroke="rgb(65,65,255)" stroke-width="1.0" fill="none"/>
<path d="M261.68,225.03H266.05M263.86,204.47V245.60" stroke="rgb(65,65,255)" stroke-width="1.0" fill="none"/>
<path d="M270.32,233.41H274.69M272.50,215.54V250.23" stroke="rgb(65,65,255)" stroke-width="1.0" fill="none"/>
<path d="M278.08,232.53H282.98M280.53,216.84V248.22" stroke="rgb(65,65,255)" stroke-width="1.0" fill="none"/>
<path d="M285.26,244.38H291.62M288.44,229.26V250.23" stroke="rgb(65,65,255)" stroke-width="1.0" fill="none"/>
<path d="M294.08,223.36H298.95M296.52,206.27V240.45" stroke="rgb(65,65,255)" stroke-width="1.0" fill="none"/>
<path d="M302.05,223.33H308.14M305.09,205.19V241.47" stroke="rgb(65,65,255)" stroke-width="1.0" fill="none"/>
<path d="M310.77,230.75H316.33M313.55,216.31V245.19" stroke="rgb(65,65,255)" stroke-width="1.0" fill="none"/>
<path d="M319.39,223.94H323.95M321.67,208.63V239.25" stroke="rgb(65,65,255)" stroke-width="1.0" fill="none"/>
<path d="M326.65,213.79H331.25M328.95,197.29V230.29" stroke="rgb(65,65,255)" stroke-width="1.0" fill="none"/>
<path d="M333.97,224.58H338.82M336.39,202.49V246.68" stroke="rgb(65,65,255)" stroke-width="1.0" fill="none"/>
<path d="M341.07,228.12H345.50M343.29,206.56V249.68" stroke="rgb(65,65,255)" stroke-width="1.0" fill="none"/>
<path d="M168.30,170.40H177.00M172.65,130.00V210.50" stroke="rgb(65,65,255)" stroke-width="1.0" fill="none"/>
<path d="M175.80,218.60H193.50M184.65,214.00V223.00" stroke="rgb(65,65,255)" stroke-width="1.0" fill="none"/>
<path d="M180.50,222.00H183.00M181.75,195.80V242.00" stroke="rgb(65,65,255)" stroke-width="1.0" fill="none"/>
<path d="M187.40,206.00H189.80M188.60,194.00V217.60" stroke="rgb(65,65,255)" stroke-width="1.0" fill="none"/>
<path d="M185.30,251.60H194.60M189.95,242.30V262.00" stroke="rgb(65,65,255)" stroke-width="1.0" fill="none"/>
<path d="M171.40,235.40H180.00M175.70,217.30V255.00" stroke="rgb(65,65,255)" stroke-width="1.0" fill="none"/>
<path d="M196.10,210.10H200.80M198.45,195.00V224.00" stroke="rgb(65,65,255)" stroke-width="1.0" fill="none"/>
<path d="M204.50,199.00H206.50M205.50,183.70V214.00" stroke="rgb(65,65,255)" stroke-width="1.0" fill="none"/>
<path d="M207.20,224.05H209.00M208.10,216.57V231.53" stroke="rgb(65,65,255)" stroke-width="1.0" fill="none"/>
<path d="M259.80,195.00H264.20M262.00,182.00V208.00" stroke="rgb(65,65,255)" stroke-width="1.0" fill="none"/>
<path d="M261.39,208.35H266.01M263.70,189.70V227.00" stroke="rgb(65,65,255)" stroke-width="1.0" fill="none"/>
<path d="M263.33,220.50H268.67M266.00,205.00V236.00" stroke="rgb(65,65,255)" stroke-width="1.0" fill="none"/>
<path d="M265.78,229.30H270.22M268.00,214.60V244.00" stroke="rgb(65,65,255)" stroke-width="1.0" fill="none"/>
<path d="M270.74,232.30H275.26M273.00,219.00V245.60" stroke="rgb(65,65,255)" stroke-width="1.0" fill="none"/>
<path d="M273.16,219.00H277.84M275.50,208.00V230.00" stroke="rgb(65,65,255)" stroke-width="1.0" fill="none"/>
<path d="M277.57,225.50H281.43M279.50,213.00V238.00" stroke="rgb(65,65,255)" stroke-width="1.0" fill="none"/>
<path d="M278.74,233.20H283.26M281.00,220.80V245.60" stroke="rgb(65,65,255)" stroke-width="1.0" fill="none"/>
<path d="M282.62,239.35H287.38M285.00,230.00V248.70" stroke="rgb(65,65,255)" stroke-width="1.0" fill="none"/>
<path d="M287.46,228.55H292.54M290.00,217.70V239.40" stroke="rgb(65,65,255)" stroke-width="1.0" fill="none"/>
<path d="M290.16,234.80H293.84M292.00,224.00V245.60" stroke="rgb(65,65,255)" stroke-width="1.0" fill="none"/>
<path d="M293.95,242.40H298.05M296.00,233.00V251.80" stroke="rgb(65,65,255)" stroke-width="1.0" fill="none"/>
<path d="M296.16,213.00H299.84M298.00,199.00V227.00" stroke="rgb(65,65,255)" stroke-width="1.0" fill="none"/>
<path d="M297.44,225.45H302.56M300.00,211.50V239.40" stroke="rgb(65,65,255)" stroke-width="1.0" fill="none"/>
<path d="M300.56,210.00H305.44M303.00,196.00V224.00" stroke="rgb(65,65,255)" stroke-width="1.0" fill="none"/>
<path d="M304.21,227.80H307.79M306.00,214.60V241.00" stroke="rgb(65,65,255)" stroke-width="1.0" fill="none"/>
<path d="M306.27,214.50H311.73M309.00,199.00V230.00" stroke="rgb(65,65,255)" stroke-width="1.0" fill="none"/>
<path d="M310.29,203.70H315.71M313.00,189.70V217.70" stroke="rgb(65,65,255)" stroke-width="1.0" fill="none"/>
<path d="M313.60,215.25H318.40M316.00,197.50V233.00" stroke="rgb(65,65,255)" stroke-width="1.0" fill="none"/>
<path d="M317.63,230.10H322.37M320.00,214.60V245.60" stroke="rgb(65,65,255)" stroke-width="1.0" fill="none"/>
<path d="M320.09,220.80H323.91M322.00,208.40V233.20" stroke="rgb(65,65,255)" stroke-width="1.0" fill="none"/>
<path d="M324.23,210.65H327.77M326.00,199.00V222.30" stroke="rgb(65,65,255)" stroke-width="1.0" fill="none"/>
<path d="M327.72,225.45H332.28M330.00,211.50V239.40" stroke="rgb(65,65,255)" stroke-width="1.0" fill="none"/>
<path d="M331.19,216.00H334.81M333.00,202.00V230.00" stroke="rgb(65,65,255)" stroke-width="1.0" fill="none"/>
<path d="M335.06,202.80H338.94M337.00,191.00V214.60" stroke="rgb(65,65,255)" stroke-width="1.0" fill="none"/>
<path d="M338.01,206.80H341.99M340.00,199.00V214.60" stroke="rgb(65,65,255)" stroke-width="1.0" fill="none"/>
<path d="M341.22,206.85H344.78M343.00,196.00V217.70" stroke="rgb(65,65,255)" stroke-width="1.0" fill="none"/>
<path d="M244.20,238.90H249.20M246.70,224.00V243.40" stroke="rgb(65,65,255)" stroke-width="1.0" fill="none"/>
<path d="M252.90,243.40H257.30M255.10,228.00V249.60" stroke="rgb(65,65,255)" stroke-width="1.0" fill="none"/>
<path d="M268.30,244.30H273.30M270.80,228.00V250.50" stroke="rgb(65,65,255)" stroke-width="1.0" fill="none"/>
<path d="M275.70,238.00H280.10M277.90,224.00V247.00" stroke="rgb(65,65,255)" stroke-width="1.0" fill="none"/>
<path d="M282.50,241.60H287.50M285.00,226.00V248.75" stroke="rgb(65,65,255)" stroke-width="1.0" fill="none"/>
<path d="M292.20,245.20H299.40M295.80,238.00V253.20" stroke="rgb(65,65,255)" stroke-width="1.0" fill="none"/>
<path d="M308.00,240.70H312.00M310.00,226.00V247.90" stroke="rgb(65,65,255)" stroke-width="1.0" fill="none"/>
<path d="M311.40,246.00H314.60M313.00,230.00V262.00" stroke="rgb(65,65,255)" stroke-width="1.0" fill="none"/>
<path d="M318.00,245.70H323.60M320.80,228.00V262.00" stroke="rgb(65,65,255)" stroke-width="1.0" fill="none"/>
<path d="M323.25,238.00H327.25M325.25,220.00V262.00" stroke="rgb(65,65,255)" stroke-width="1.0" fill="none"/>
<path d="M324.40,240.70H333.20M328.80,224.00V256.00" stroke="rgb(65,65,255)" stroke-width="1.0" fill="none"/>
<path d="M329.50,236.00H333.50M331.50,218.00V262.00" stroke="rgb(65,65,255)" stroke-width="1.0" fill="none"/>
<path d="M337.70,246.40H345.10M341.40,239.00V262.00" stroke="rgb(65,65,255)" stroke-width="1.0" fill="none"/>
<line x1="36.50" y1="233.40" x2="345.50" y2="233.40" stroke="rgb(110,240,110)" stroke-width="1.2"/>
</g>
<g clip-path="url(#cu0)">
<path d="M36.70,153.84H39.00M37.85,148.34V161.60" stroke="rgb(255,55,55)" stroke-width="1.0" fill="none"/>
<path d="M40.50,165.54H45.70M43.10,160.25V169.67" stroke="rgb(255,55,55)" stroke-width="1.0" fill="none"/>
<path d="M45.00,158.67H48.70M46.85,155.00V161.95" stroke="rgb(255,55,55)" stroke-width="1.0" fill="none"/>
<path d="M48.00,155.87H49.50M48.75,152.92V164.32" stroke="rgb(255,55,55)" stroke-width="1.0" fill="none"/>
<path d="M49.50,151.28H52.50M51.00,149.45V159.84" stroke="rgb(255,55,55)" stroke-width="1.0" fill="none"/>
<path d="M51.40,139.01H54.30M52.85,134.64V144.22" stroke="rgb(255,55,55)" stroke-width="1.0" fill="none"/>
<path d="M53.80,144.82H55.60M54.70,140.52V148.57" stroke="rgb(255,55,55)" stroke-width="1.0" fill="none"/>
<path d="M54.00,147.47H58.50M56.25,142.41V153.05" stroke="rgb(255,55,55)" stroke-width="1.0" fill="none"/>
<path d="M57.50,151.78H59.50M58.50,146.63V155.73" stroke="rgb(255,55,55)" stroke-width="1.0" fill="none"/>
<path d="M59.70,151.89H61.70M60.70,147.70V156.94" stroke="rgb(255,55,55)" stroke-width="1.0" fill="none"/>
<path d="M62.00,148.26H64.60M63.30,143.71V154.41" stroke="rgb(255,55,55)" stroke-width="1.0" fill="none"/>
<path d="M65.20,148.38H68.20M66.70,144.19V158.44" stroke="rgb(255,55,55)" stroke-width="1.0" fill="none"/>
<path d="M68.20,155.86H73.50M70.85,150.89V161.20" stroke="rgb(255,55,55)" stroke-width="1.0" fill="none"/>
<path d="M71.70,158.22H73.70M72.70,153.81V165.86" stroke="rgb(255,55,55)" stroke-width="1.0" fill="none"/>
<path d="M73.50,151.77H77.70M75.60,146.62V156.54" stroke="rgb(255,55,55)" stroke-width="1.0" fill="none"/>
<path d="M73.10,146.81H84.60M78.85,142.66V151.71" stroke="rgb(255,55,55)" stroke-width="1.0" fill="none"/>
<path d="M77.20,161.05H82.50M79.85,156.83V167.65" stroke="rgb(255,55,55)" stroke-width="1.0" fill="none"/>
<path d="M81.70,160.96H88.50M85.10,155.96V166.50" stroke="rgb(255,55,55)" stroke-width="1.0" fill="none"/>
<path d="M84.70,155.24H98.20M91.45,150.56V165.55" stroke="rgb(255,55,55)" stroke-width="1.0" fill="none"/>
<path d="M90.00,160.15H96.70M93.35,154.05V167.75" stroke="rgb(255,55,55)" stroke-width="1.0" fill="none"/>
<path d="M96.70,157.85H106.00M101.35,148.66V164.64" stroke="rgb(255,55,55)" stroke-width="1.0" fill="none"/>
<path d="M104.00,157.80H109.20M106.60,148.92V178.19" stroke="rgb(255,55,55)" stroke-width="1.0" fill="none"/>
<path d="M109.00,148.42H119.00M114.00,142.78V152.63" stroke="rgb(255,55,55)" stroke-width="1.0" fill="none"/>
<path d="M111.10,151.88H116.90M114.00,147.81V157.99" stroke="rgb(255,55,55)" stroke-width="1.0" fill="none"/>
<path d="M104.00,166.73H122.00M113.00,158.01V178.16" stroke="rgb(255,55,55)" stroke-width="1.0" fill="none"/>
<path d="M118.20,161.92H134.00M126.10,158.46V176.05" stroke="rgb(255,55,55)" stroke-width="1.0" fill="none"/>
<path d="M126.50,164.51H139.20M132.85,156.90V174.23" stroke="rgb(255,55,55)" stroke-width="1.0" fill="none"/>
<path d="M132.50,158.57H144.00M138.25,153.11V168.77" stroke="rgb(255,55,55)" stroke-width="1.0" fill="none"/>
<path d="M140.00,153.88H154.20M147.10,147.70V162.92" stroke="rgb(255,55,55)" stroke-width="1.0" fill="none"/>
<path d="M150.20,138.96H168.30M159.25,134.12V144.66" stroke="rgb(255,55,55)" stroke-width="1.0" fill="none"/>
<path d="M150.00,154.59H157.60M153.80,148.55V163.24" stroke="rgb(255,55,55)" stroke-width="1.0" fill="none"/>
<path d="M153.80,158.54H169.10M161.45,150.13V168.61" stroke="rgb(255,55,55)" stroke-width="1.0" fill="none"/>
<path d="M169.00,141.59H180.00M174.50,130.71V145.04" stroke="rgb(255,55,55)" stroke-width="1.0" fill="none"/>
<path d="M168.30,137.25H180.00M174.15,133.10V142.48" stroke="rgb(255,55,55)" stroke-width="1.0" fill="none"/>
<path d="M180.00,128.38H186.00M183.00,123.12V135.50" stroke="rgb(255,55,55)" stroke-width="1.0" fill="none"/>
<path d="M184.00,129.98H191.00M187.50,122.40V139.96" stroke="rgb(255,55,55)" stroke-width="1.0" fill="none"/>
<path d="M187.00,114.75H191.00M189.00,110.36V120.47" stroke="rgb(255,55,55)" stroke-width="1.0" fill="none"/>
<path d="M191.00,114.29H196.00M193.50,108.97V121.55" stroke="rgb(255,55,55)" stroke-width="1.0" fill="none"/>
<path d="M195.00,112.46H199.00M197.00,106.47V121.01" stroke="rgb(255,55,55)" stroke-width="1.0" fill="none"/>
<path d="M199.00,98.60H203.00M201.00,93.80V104.90" stroke="rgb(255,55,55)" stroke-width="1.0" fill="none"/>
<path d="M202.00,98.31H205.00M203.50,92.46V106.57" stroke="rgb(255,55,55)" stroke-width="1.0" fill="none"/>
<path d="M204.00,90.89H207.00M205.50,86.56V97.07" stroke="rgb(255,55,55)" stroke-width="1.0" fill="none"/>
<path d="M207.40,64.88H208.80M208.10,62.56V67.50" stroke="rgb(255,55,55)" stroke-width="1.0" fill="none"/>
<path d="M209.50,78.62H211.50M210.50,74.85V83.78" stroke="rgb(255,55,55)" stroke-width="1.0" fill="none"/>
<path d="M209.40,74.00H214.20M211.80,69.33V79.92" stroke="rgb(255,55,55)" stroke-width="1.0" fill="none"/>
<path d="M212.00,91.32H215.00M213.50,85.47V100.53" stroke="rgb(255,55,55)" stroke-width="1.0" fill="none"/>
<path d="M215.00,104.24H219.00M217.00,99.42V111.28" stroke="rgb(255,55,55)" stroke-width="1.0" fill="none"/>
<path d="M218.00,101.47H222.00M220.00,96.85V107.46" stroke="rgb(255,55,55)" stroke-width="1.0" fill="none"/>
<path d="M183.72,124.50H189.28M186.50,119.27V131.58" stroke="rgb(65,65,255)" stroke-width="1.0" fill="none"/>
<path d="M186.54,130.28H192.85M189.69,122.60V133.97" stroke="rgb(65,65,255)" stroke-width="1.0" fill="none"/>
<path d="M189.14,114.84H195.50M192.32,109.95V121.30" stroke="rgb(65,65,255)" stroke-width="1.0" fill="none"/>
<path d="M193.13,113.01H197.74M195.44,107.39V120.80" stroke="rgb(65,65,255)" stroke-width="1.0" fill="none"/>
<path d="M196.45,108.88H200.49M198.47,102.75V117.72" stroke="rgb(65,65,255)" stroke-width="1.0" fill="none"/>
<path d="M200.12,93.79H202.36M201.24,90.40V97.86" stroke="rgb(65,65,255)" stroke-width="1.0" fill="none"/>
<path d="M202.22,86.94H205.15M203.68,83.37V91.28" stroke="rgb(65,65,255)" stroke-width="1.0" fill="none"/>
<path d="M204.42,92.06H206.74M205.58,86.09V100.57" stroke="rgb(65,65,255)" stroke-width="1.0" fill="none"/>
<path d="M206.95,79.46H209.39M208.17,73.62V87.09" stroke="rgb(65,65,255)" stroke-width="1.0" fill="none"/>
<path d="M209.03,84.49H212.44M210.74,77.98V94.16" stroke="rgb(65,65,255)" stroke-width="1.0" fill="none"/>
<path d="M211.42,87.90H214.76M213.09,83.15V94.11" stroke="rgb(65,65,255)" stroke-width="1.0" fill="none"/>
<path d="M214.08,93.58H216.18M215.13,88.47V100.44" stroke="rgb(65,65,255)" stroke-width="1.0" fill="none"/>
<path d="M216.17,106.55H218.17M217.17,100.27V115.71" stroke="rgb(65,65,255)" stroke-width="1.0" fill="none"/>
<path d="M218.15,102.75H220.87M219.51,98.05V108.88" stroke="rgb(65,65,255)" stroke-width="1.0" fill="none"/>
<path d="M218.69,104.33H224.45M221.57,98.75V112.06" stroke="rgb(65,65,255)" stroke-width="1.0" fill="none"/>
<path d="M221.16,104.02H227.27M224.21,98.17V112.28" stroke="rgb(65,65,255)" stroke-width="1.0" fill="none"/>
<path d="M224.37,99.79H229.28M226.83,95.59V105.09" stroke="rgb(65,65,255)" stroke-width="1.0" fill="none"/>
<path d="M226.69,96.62H233.08M229.89,90.99V104.46" stroke="rgb(65,65,255)" stroke-width="1.0" fill="none"/>
<path d="M229.48,94.91H235.81M232.65,89.44V102.44" stroke="rgb(65,65,255)" stroke-width="1.0" fill="none"/>
<path d="M232.63,87.83H238.57M235.60,82.67V94.79" stroke="rgb(65,65,255)" stroke-width="1.0" fill="none"/>
<path d="M234.89,81.39H240.88M237.89,78.17V85.23" stroke="rgb(65,65,255)" stroke-width="1.0" fill="none"/>
<path d="M238.35,82.02H243.20M240.77,76.38V89.87" stroke="rgb(65,65,255)" stroke-width="1.0" fill="none"/>
<path d="M241.04,83.25H245.89M243.46,78.07V90.24" stroke="rgb(65,65,255)" stroke-width="1.0" fill="none"/>
<path d="M244.18,78.80H248.62M246.40,74.40V84.44" stroke="rgb(65,65,255)" stroke-width="1.0" fill="none"/>
<path d="M245.80,75.85H251.53M248.66,69.82V84.48" stroke="rgb(65,65,255)" stroke-width="1.0" fill="none"/>
<path d="M248.99,73.31H254.33M251.66,68.97V78.85" stroke="rgb(65,65,255)" stroke-width="1.0" fill="none"/>
<path d="M251.44,75.15H256.93M254.19,70.52V81.15" stroke="rgb(65,65,255)" stroke-width="1.0" fill="none"/>
<path d="M253.90,69.42H260.19M257.05,64.52V75.89" stroke="rgb(65,65,255)" stroke-width="1.0" fill="none"/>
<path d="M256.23,69.60H262.32M259.27,64.04V77.28" stroke="rgb(65,65,255)" stroke-width="1.0" fill="none"/>
<path d="M258.59,75.37H264.56M261.58,68.43V81.79" stroke="rgb(65,65,255)" stroke-width="1.0" fill="none"/>
<path d="M261.68,64.22H266.05M263.86,56.72V76.29" stroke="rgb(65,65,255)" stroke-width="1.0" fill="none"/>
<path d="M263.67,57.65H269.80M266.74,52.63V64.34" stroke="rgb(65,65,255)" stroke-width="1.0" fill="none"/>
<path d="M267.11,63.61H272.33M269.72,56.90V73.72" stroke="rgb(65,65,255)" stroke-width="1.0" fill="none"/>
<path d="M270.32,64.28H274.69M272.50,56.38V76.35" stroke="rgb(65,65,255)" stroke-width="1.0" fill="none"/>
<path d="M271.81,67.32H278.21M275.01,60.70V75.30" stroke="rgb(65,65,255)" stroke-width="1.0" fill="none"/>
<path d="M275.37,62.72H280.05M277.71,54.99V74.41" stroke="rgb(65,65,255)" stroke-width="1.0" fill="none"/>
<path d="M278.08,61.07H282.98M280.53,54.12V71.73" stroke="rgb(65,65,255)" stroke-width="1.0" fill="none"/>
<path d="M280.41,67.77H286.31M283.36,58.22V72.82" stroke="rgb(65,65,255)" stroke-width="1.0" fill="none"/>
<path d="M283.50,59.76H288.20M285.85,53.72V68.40" stroke="rgb(65,65,255)" stroke-width="1.0" fill="none"/>
<path d="M285.26,66.37H291.62M288.44,57.22V71.43" stroke="rgb(65,65,255)" stroke-width="1.0" fill="none"/>
<path d="M289.15,59.04H293.17M291.16,52.36V69.09" stroke="rgb(65,65,255)" stroke-width="1.0" fill="none"/>
<path d="M290.78,53.41H296.82M293.80,47.26V62.28" stroke="rgb(65,65,255)" stroke-width="1.0" fill="none"/>
<path d="M294.08,52.37H298.95M296.52,46.15V61.41" stroke="rgb(65,65,255)" stroke-width="1.0" fill="none"/>
<path d="M302.05,50.39H308.14M305.09,43.85V60.12" stroke="rgb(65,65,255)" stroke-width="1.0" fill="none"/>
<path d="M310.77,52.38H316.33M313.55,46.15V61.42" stroke="rgb(65,65,255)" stroke-width="1.0" fill="none"/>
<path d="M319.39,47.97H323.95M321.67,42.25V55.96" stroke="rgb(65,65,255)" stroke-width="1.0" fill="none"/>
<path d="M326.65,43.23H331.25M328.95,38.09V50.14" stroke="rgb(65,65,255)" stroke-width="1.0" fill="none"/>
<path d="M333.97,46.69H338.82M336.39,38.79V59.83" stroke="rgb(65,65,255)" stroke-width="1.0" fill="none"/>
<path d="M341.07,47.56H345.50M343.29,39.30V61.79" stroke="rgb(65,65,255)" stroke-width="1.0" fill="none"/>
<path d="M168.30,125.29H177.00M172.65,118.46V135.60" stroke="rgb(65,65,255)" stroke-width="1.0" fill="none"/>
<path d="M175.80,122.95H193.50M184.65,121.24V124.73" stroke="rgb(65,65,255)" stroke-width="1.0" fill="none"/>
<path d="M180.50,127.62H183.00M181.75,118.93V138.28" stroke="rgb(65,65,255)" stroke-width="1.0" fill="none"/>
<path d="M187.40,112.85H189.80M188.60,109.41V116.84" stroke="rgb(65,65,255)" stroke-width="1.0" fill="none"/>
<path d="M185.30,134.87H194.60M189.95,126.89V150.65" stroke="rgb(65,65,255)" stroke-width="1.0" fill="none"/>
<path d="M171.40,137.72H180.00M175.70,129.37V154.03" stroke="rgb(65,65,255)" stroke-width="1.0" fill="none"/>
<path d="M196.10,98.72H200.80M198.45,94.23V103.98" stroke="rgb(65,65,255)" stroke-width="1.0" fill="none"/>
<path d="M204.50,79.96H206.50M205.50,76.05V84.70" stroke="rgb(65,65,255)" stroke-width="1.0" fill="none"/>
<path d="M207.20,70.49H209.00M208.10,67.49V74.01" stroke="rgb(65,65,255)" stroke-width="1.0" fill="none"/>
<path d="M295.45,64.70H299.95M297.70,58.30V71.10" stroke="rgb(65,65,255)" stroke-width="1.0" fill="none"/>
<path d="M296.95,46.50H301.45M299.20,43.30V54.00" stroke="rgb(65,65,255)" stroke-width="1.0" fill="none"/>
<path d="M299.15,50.80H303.65M301.40,45.40V56.10" stroke="rgb(65,65,255)" stroke-width="1.0" fill="none"/>
<path d="M301.85,48.60H306.35M304.10,41.10V54.00" stroke="rgb(65,65,255)" stroke-width="1.0" fill="none"/>
<path d="M304.45,49.70H308.95M306.70,44.30V55.00" stroke="rgb(65,65,255)" stroke-width="1.0" fill="none"/>
<path d="M307.65,56.10H312.15M309.90,51.80V66.80" stroke="rgb(65,65,255)" stroke-width="1.0" fill="none"/>
<path d="M309.75,44.30H314.25M312.00,37.90V52.90" stroke="rgb(65,65,255)" stroke-width="1.0" fill="none"/>
<path d="M310.85,62.50H315.35M313.10,54.00V76.50" stroke="rgb(65,65,255)" stroke-width="1.0" fill="none"/>
<path d="M314.05,45.40H318.55M316.30,40.00V54.00" stroke="rgb(65,65,255)" stroke-width="1.0" fill="none"/>
<path d="M318.35,60.40H322.85M320.60,54.00V77.50" stroke="rgb(65,65,255)" stroke-width="1.0" fill="none"/>
<path d="M321.55,45.40H326.05M323.80,39.00V51.80" stroke="rgb(65,65,255)" stroke-width="1.0" fill="none"/>
<path d="M324.75,49.70H329.25M327.00,42.20V58.30" stroke="rgb(65,65,255)" stroke-width="1.0" fill="none"/>
<path d="M328.05,52.90H332.55M330.30,47.60V58.30" stroke="rgb(65,65,255)" stroke-width="1.0" fill="none"/>
<path d="M330.55,50.80H335.05M332.80,45.40V56.00" stroke="rgb(65,65,255)" stroke-width="1.0" fill="none"/>
<path d="M333.35,40.00H337.85M335.60,34.70V47.60" stroke="rgb(65,65,255)" stroke-width="1.0" fill="none"/>
<path d="M338.25,38.60H342.75M340.50,32.60V45.40" stroke="rgb(65,65,255)" stroke-width="1.0" fill="none"/>
<path d="M340.75,72.00H345.25M343.00,65.80V84.00" stroke="rgb(65,65,255)" stroke-width="1.0" fill="none"/>
<path d="M36.50,166.50 C42.92,166.25 62.75,165.62 75.00,165.00 C87.25,164.38 95.83,163.55 110.00,162.80 C124.17,162.05 145.00,161.32 160.00,160.50 C175.00,159.68 189.33,158.57 200.00,157.90 C210.67,157.23 214.63,157.05 224.00,156.50 C233.37,155.95 245.48,155.30 256.20,154.60 C266.92,153.90 277.58,152.95 288.30,152.30 C299.02,151.65 310.97,151.25 320.50,150.70 C330.03,150.15 341.33,149.28 345.50,149.00" fill="none" stroke="#000" stroke-width="0.8" stroke-dasharray="5,2,1,2,1,2"/>
<path d="M224.00,168.40 C225.33,167.58 229.33,164.83 232.00,163.50 C234.67,162.17 237.33,161.38 240.00,160.40 C242.67,159.42 245.30,158.40 248.00,157.60 C250.70,156.80 253.53,156.15 256.20,155.60 C258.87,155.05 261.33,154.68 264.00,154.30 C266.67,153.92 268.70,153.58 272.20,153.30 C275.70,153.02 282.87,152.72 285.00,152.60" fill="none" stroke="#000" stroke-width="0.8" stroke-dasharray="1,2"/>
<path d="M45.00,168.50 L48.00,165.00 L52.00,161.00 L55.00,158.50 L57.00,157.50 L59.00,159.50 L61.00,158.50 L63.00,161.00 L66.00,165.00 L69.00,168.50" fill="none" stroke="#000" stroke-width="0.8" stroke-dasharray="4,2,1,2" stroke-linejoin="round"/>
<path d="M222.90,124.00 C225.25,123.25 233.15,121.03 237.00,119.50 C240.85,117.97 242.83,116.15 246.00,114.80 C249.17,113.45 251.67,112.48 256.00,111.40 C260.33,110.32 266.67,109.17 272.00,108.30 C277.33,107.43 282.67,106.77 288.00,106.20 C293.33,105.63 298.67,105.28 304.00,104.90 C309.33,104.52 313.08,104.35 320.00,103.90 C326.92,103.45 341.25,102.48 345.50,102.20" fill="none" stroke="#222" stroke-width="1.0" stroke-dasharray="6.5,3.5"/>
<path d="M207.40,112.00 L207.40,168.50" fill="none" stroke="#000" stroke-width="1.0" stroke-dasharray="3,1.5" stroke-linejoin="round"/>
<path d="M208.90,118.00 L208.90,168.50" fill="none" stroke="#000" stroke-width="0.9" stroke-dasharray="2,1.5,1,1.5" stroke-linejoin="round"/>
<path d="M214.90,127.40 L214.90,168.50" fill="none" stroke="#000" stroke-width="0.9" stroke-dasharray="4,2" stroke-linejoin="round"/>
<path d="M217.80,134.80 L217.80,168.50" fill="none" stroke="#000" stroke-width="0.8" stroke-dasharray="4,2,1,2" stroke-linejoin="round"/>
<path d="M170.50,168.50 L177.90,155.70 L188.60,140.70 L199.30,127.50 L205.00,124.50 L212.30,121.00 L215.70,121.50 L218.30,125.10 L222.90,124.00" fill="none" stroke="#000" stroke-width="0.85" stroke-linejoin="round"/>
<path d="M190.50,168.50 L193.60,158.60 L199.30,137.10 L202.90,127.00 L205.00,120.00 L207.90,110.50 L210.60,102.30 L213.40,108.90 L216.30,117.00 L218.00,123.50 L219.50,134.50" fill="none" stroke="#000" stroke-width="0.85" stroke-linejoin="round"/>
<path d="M219.50,134.50 C220.02,132.67 221.08,127.20 222.60,123.50 C224.12,119.80 226.75,115.60 228.60,112.30 C230.45,109.00 231.98,106.55 233.70,103.70 C235.42,100.85 236.90,98.05 238.90,95.20 C240.90,92.35 243.28,89.32 245.70,86.60 C248.12,83.88 251.02,81.00 253.40,78.90 C255.78,76.80 257.90,75.43 260.00,74.00 C262.10,72.57 263.33,71.72 266.00,70.30 C268.67,68.88 272.67,66.87 276.00,65.50 C279.33,64.13 282.67,63.13 286.00,62.10 C289.33,61.07 292.67,60.13 296.00,59.30 C299.33,58.47 302.00,57.90 306.00,57.10 C310.00,56.30 313.42,55.47 320.00,54.50 C326.58,53.53 341.25,51.83 345.50,51.30" fill="none" stroke="#000" stroke-width="0.85"/>
<path d="M40.80,166.00 L40.80,155.00 L52.00,155.00 L52.00,151.50 L62.00,151.50 L62.00,152.50 L70.00,152.50 L70.00,157.00 L80.00,157.00 L80.00,160.00 L90.00,160.20 L140.00,159.50 L140.00,157.00 L160.00,157.00 L160.00,152.00 L172.00,152.00 L172.00,140.00 L180.00,140.00 L180.00,131.00 L188.00,131.00 L188.00,121.00 L193.00,121.00 L193.00,114.00 L198.00,114.00 L198.00,108.00 L203.00,108.00 L203.00,96.00 L207.30,96.00 L207.30,77.00 L208.80,77.00 L208.80,90.00 L213.00,90.00 L213.00,95.00 L217.00,95.00 L217.00,108.00 L222.00,108.00 L222.00,105.00 L225.00,105.00" fill="none" stroke="rgb(0,236,120)" stroke-width="1.5" stroke-linejoin="round"/>
<path d="M36.50,158.00 L40.40,158.00 L40.40,166.50 L44.80,166.50 L44.80,154.40 L48.50,154.40 L48.50,152.50 L52.90,152.50 L52.90,147.50 L57.90,147.50 L57.90,150.60 L61.60,150.60 L61.60,150.00 L64.80,150.00 L64.80,151.20 L72.50,151.20 L72.50,155.80 L77.00,155.80 L77.00,158.00 L82.00,158.00 L82.00,160.60 L110.00,160.80 L135.00,160.30 L135.00,155.70 L150.00,155.70 L150.00,153.00 L169.00,153.00 L169.00,138.00 L176.00,138.00 L176.00,135.00 L185.00,135.00 L185.00,127.00 L190.00,127.00 L190.00,117.50 L195.00,117.50 L195.00,111.00 L199.00,111.00 L199.00,105.00 L201.50,105.00 L201.50,93.00 L206.90,93.00 L206.90,74.00 L209.50,74.00 L209.50,83.50 L211.40,83.50 L211.40,87.00 L214.00,87.00 L214.00,92.00 L215.10,92.00 L215.10,106.40 L222.30,106.40 L222.30,105.00 L226.60,105.00 L226.60,101.40 L229.40,101.40 L229.40,99.00" fill="none" stroke="rgb(0,236,120)" stroke-width="1.6" stroke-linejoin="round"/>
<path d="M229.40,99.00 C230.12,98.25 232.52,95.83 233.70,94.50 C234.88,93.17 235.45,92.33 236.50,91.00 C237.55,89.67 238.47,88.17 240.00,86.50 C241.53,84.83 244.03,82.50 245.70,81.00 C247.37,79.50 248.12,78.92 250.00,77.50 C251.88,76.08 254.33,74.25 257.00,72.50 C259.67,70.75 262.83,68.62 266.00,67.00 C269.17,65.38 272.67,63.97 276.00,62.80 C279.33,61.63 282.67,60.92 286.00,60.00 C289.33,59.08 292.67,58.13 296.00,57.30 C299.33,56.47 302.00,55.77 306.00,55.00 C310.00,54.23 313.42,53.53 320.00,52.70 C326.58,51.87 341.25,50.45 345.50,50.00" fill="none" stroke="rgb(0,236,120)" stroke-width="1.8"/>
</g>
<g clip-path="url(#cr396)">
<path d="M432.70,221.20H435.00M433.85,205.70V237.00" stroke="rgb(255,55,55)" stroke-width="1.0" fill="none"/>
<path d="M436.50,236.70H441.70M439.10,226.50V243.00" stroke="rgb(255,55,55)" stroke-width="1.0" fill="none"/>
<path d="M441.00,240.70H444.70M442.85,234.70V245.20" stroke="rgb(255,55,55)" stroke-width="1.0" fill="none"/>
<path d="M444.00,237.70H445.50M444.75,232.50V249.00" stroke="rgb(255,55,55)" stroke-width="1.0" fill="none"/>
<path d="M445.50,231.70H448.50M447.00,228.00V245.20" stroke="rgb(255,55,55)" stroke-width="1.0" fill="none"/>
<path d="M447.40,205.70H450.30M448.85,190.00V220.50" stroke="rgb(255,55,55)" stroke-width="1.0" fill="none"/>
<path d="M449.80,226.50H451.60M450.70,216.00V234.00" stroke="rgb(255,55,55)" stroke-width="1.0" fill="none"/>
<path d="M450.00,232.20H454.50M452.25,221.20V241.50" stroke="rgb(255,55,55)" stroke-width="1.0" fill="none"/>
<path d="M453.50,237.00H455.50M454.50,227.20V243.00" stroke="rgb(255,55,55)" stroke-width="1.0" fill="none"/>
<path d="M455.70,236.00H457.70M456.70,228.00V243.70" stroke="rgb(255,55,55)" stroke-width="1.0" fill="none"/>
<path d="M458.00,230.00H460.60M459.30,219.70V240.70" stroke="rgb(255,55,55)" stroke-width="1.0" fill="none"/>
<path d="M461.20,228.70H464.20M462.70,219.00V245.20" stroke="rgb(255,55,55)" stroke-width="1.0" fill="none"/>
<path d="M464.20,238.50H469.50M466.85,229.50V246.00" stroke="rgb(255,55,55)" stroke-width="1.0" fill="none"/>
<path d="M467.70,240.00H469.70M468.70,232.50V249.70" stroke="rgb(255,55,55)" stroke-width="1.0" fill="none"/>
<path d="M469.50,224.20H473.70M471.60,210.70V234.00" stroke="rgb(255,55,55)" stroke-width="1.0" fill="none"/>
<path d="M469.10,206.70H480.60M474.85,192.10V220.50" stroke="rgb(255,55,55)" stroke-width="1.0" fill="none"/>
<path d="M473.20,238.50H478.50M475.85,231.00V247.50" stroke="rgb(255,55,55)" stroke-width="1.0" fill="none"/>
<path d="M477.70,236.20H484.50M481.10,226.50V244.50" stroke="rgb(255,55,55)" stroke-width="1.0" fill="none"/>
<path d="M480.70,222.00H494.20M487.45,209.30V241.50" stroke="rgb(255,55,55)" stroke-width="1.0" fill="none"/>
<path d="M486.00,232.50H492.70M489.35,219.00V244.50" stroke="rgb(255,55,55)" stroke-width="1.0" fill="none"/>
<path d="M492.70,227.70H502.00M497.35,202.90V240.00" stroke="rgb(255,55,55)" stroke-width="1.0" fill="none"/>
<path d="M500.00,227.50H505.20M502.60,203.60V255.00" stroke="rgb(255,55,55)" stroke-width="1.0" fill="none"/>
<path d="M505.00,202.10H515.00M510.00,180.00V215.00" stroke="rgb(255,55,55)" stroke-width="1.0" fill="none"/>
<path d="M507.10,212.90H512.90M510.00,200.00V228.00" stroke="rgb(255,55,55)" stroke-width="1.0" fill="none"/>
<path d="M500.00,243.00H518.00M509.00,228.00V255.00" stroke="rgb(255,55,55)" stroke-width="1.0" fill="none"/>
<path d="M514.20,236.00H530.00M522.10,229.50V253.50" stroke="rgb(255,55,55)" stroke-width="1.0" fill="none"/>
<path d="M522.50,240.40H535.20M528.85,226.50V252.00" stroke="rgb(255,55,55)" stroke-width="1.0" fill="none"/>
<path d="M528.50,234.70H540.00M534.25,223.50V249.00" stroke="rgb(255,55,55)" stroke-width="1.0" fill="none"/>
<path d="M536.00,231.40H550.20M543.10,217.30V245.60" stroke="rgb(255,55,55)" stroke-width="1.0" fill="none"/>
<path d="M546.20,195.50H564.30M555.25,175.10V214.00" stroke="rgb(255,55,55)" stroke-width="1.0" fill="none"/>
<path d="M546.00,234.60H553.60M549.80,222.00V247.20" stroke="rgb(255,55,55)" stroke-width="1.0" fill="none"/>
<path d="M549.80,244.80H565.10M557.45,231.40V255.00" stroke="rgb(255,55,55)" stroke-width="1.0" fill="none"/>
<path d="M565.00,240.90H576.00M570.50,219.60V245.60" stroke="rgb(255,55,55)" stroke-width="1.0" fill="none"/>
<path d="M564.30,233.50H576.00M570.15,225.00V242.00" stroke="rgb(255,55,55)" stroke-width="1.0" fill="none"/>
<path d="M576.00,227.00H582.00M579.00,214.00V240.00" stroke="rgb(255,55,55)" stroke-width="1.0" fill="none"/>
<path d="M580.00,240.00H587.00M583.50,226.00V252.00" stroke="rgb(255,55,55)" stroke-width="1.0" fill="none"/>
<path d="M583.00,214.00H587.00M585.00,200.20V228.00" stroke="rgb(255,55,55)" stroke-width="1.0" fill="none"/>
<path d="M587.00,231.00H592.00M589.50,219.00V243.00" stroke="rgb(255,55,55)" stroke-width="1.0" fill="none"/>
<path d="M591.00,236.00H595.00M593.00,224.00V248.00" stroke="rgb(255,55,55)" stroke-width="1.0" fill="none"/>
<path d="M595.00,226.00H599.00M597.00,214.00V238.00" stroke="rgb(255,55,55)" stroke-width="1.0" fill="none"/>
<path d="M598.00,241.00H601.00M599.50,231.00V251.00" stroke="rgb(255,55,55)" stroke-width="1.0" fill="none"/>
<path d="M600.00,229.00H603.00M601.50,219.00V240.00" stroke="rgb(255,55,55)" stroke-width="1.0" fill="none"/>
<path d="M603.40,209.10H604.80M604.10,201.60V216.60" stroke="rgb(255,55,55)" stroke-width="1.0" fill="none"/>
<path d="M605.50,222.00H607.50M606.50,212.00V233.00" stroke="rgb(255,55,55)" stroke-width="1.0" fill="none"/>
<path d="M605.40,205.40H610.20M607.80,188.40V222.00" stroke="rgb(255,55,55)" stroke-width="1.0" fill="none"/>
<path d="M608.00,238.00H611.00M609.50,227.00V250.00" stroke="rgb(255,55,55)" stroke-width="1.0" fill="none"/>
<path d="M611.00,230.00H615.00M613.00,219.00V242.00" stroke="rgb(255,55,55)" stroke-width="1.0" fill="none"/>
<path d="M614.00,224.00H618.00M616.00,212.00V236.00" stroke="rgb(255,55,55)" stroke-width="1.0" fill="none"/>
<path d="M579.72,227.27H585.28M582.50,214.42V240.12" stroke="rgb(65,65,255)" stroke-width="1.0" fill="none"/>
<path d="M582.54,246.11H588.85M585.69,234.70V250.23" stroke="rgb(65,65,255)" stroke-width="1.0" fill="none"/>
<path d="M585.14,229.00H591.50M588.32,217.57V240.43" stroke="rgb(65,65,255)" stroke-width="1.0" fill="none"/>
<path d="M589.13,233.35H593.74M591.44,221.37V245.33" stroke="rgb(65,65,255)" stroke-width="1.0" fill="none"/>
<path d="M592.45,234.14H596.49M594.47,221.15V247.12" stroke="rgb(65,65,255)" stroke-width="1.0" fill="none"/>
<path d="M596.12,217.61H598.36M597.24,207.91V227.31" stroke="rgb(65,65,255)" stroke-width="1.0" fill="none"/>
<path d="M598.22,218.65H601.15M599.68,208.58V228.73" stroke="rgb(65,65,255)" stroke-width="1.0" fill="none"/>
<path d="M600.42,231.39H602.74M601.58,217.84V244.93" stroke="rgb(65,65,255)" stroke-width="1.0" fill="none"/>
<path d="M602.95,240.81H605.39M604.17,230.76V250.23" stroke="rgb(65,65,255)" stroke-width="1.0" fill="none"/>
<path d="M605.03,233.86H608.44M606.74,219.83V247.90" stroke="rgb(65,65,255)" stroke-width="1.0" fill="none"/>
<path d="M607.42,233.99H610.76M609.09,224.25V243.73" stroke="rgb(65,65,255)" stroke-width="1.0" fill="none"/>
<path d="M610.08,228.60H612.18M611.13,216.46V240.73" stroke="rgb(65,65,255)" stroke-width="1.0" fill="none"/>
<path d="M612.17,234.40H614.17M613.17,221.14V247.66" stroke="rgb(65,65,255)" stroke-width="1.0" fill="none"/>
<path d="M614.15,226.87H616.87M615.51,215.37V238.36" stroke="rgb(65,65,255)" stroke-width="1.0" fill="none"/>
<path d="M614.69,230.18H620.45M617.57,217.28V243.08" stroke="rgb(65,65,255)" stroke-width="1.0" fill="none"/>
<path d="M617.16,231.74H623.27M620.21,218.64V244.84" stroke="rgb(65,65,255)" stroke-width="1.0" fill="none"/>
<path d="M620.37,227.18H625.28M622.83,217.12V237.24" stroke="rgb(65,65,255)" stroke-width="1.0" fill="none"/>
<path d="M622.69,228.81H629.08M625.89,215.31V242.31" stroke="rgb(65,65,255)" stroke-width="1.0" fill="none"/>
<path d="M625.48,231.85H631.81M628.65,219.73V243.96" stroke="rgb(65,65,255)" stroke-width="1.0" fill="none"/>
<path d="M628.63,224.56H634.57M631.60,211.10V238.01" stroke="rgb(65,65,255)" stroke-width="1.0" fill="none"/>
<path d="M630.89,215.72H636.88M633.89,206.20V225.25" stroke="rgb(65,65,255)" stroke-width="1.0" fill="none"/>
<path d="M634.35,225.82H639.20M636.77,211.35V240.29" stroke="rgb(65,65,255)" stroke-width="1.0" fill="none"/>
<path d="M637.04,233.57H641.89M639.46,222.70V244.45" stroke="rgb(65,65,255)" stroke-width="1.0" fill="none"/>
<path d="M640.18,230.27H644.62M642.40,220.40V240.14" stroke="rgb(65,65,255)" stroke-width="1.0" fill="none"/>
<path d="M641.80,227.98H647.53M644.66,213.10V242.86" stroke="rgb(65,65,255)" stroke-width="1.0" fill="none"/>
<path d="M644.99,227.41H650.33M647.66,217.01V237.80" stroke="rgb(65,65,255)" stroke-width="1.0" fill="none"/>
<path d="M647.44,234.56H652.93M650.19,225.25V243.87" stroke="rgb(65,65,255)" stroke-width="1.0" fill="none"/>
<path d="M649.90,227.30H656.19M653.05,215.37V239.23" stroke="rgb(65,65,255)" stroke-width="1.0" fill="none"/>
<path d="M657.68,225.03H662.05M659.86,204.47V245.60" stroke="rgb(65,65,255)" stroke-width="1.0" fill="none"/>
<path d="M666.32,233.41H670.69M668.50,215.54V250.23" stroke="rgb(65,65,255)" stroke-width="1.0" fill="none"/>
<path d="M674.08,232.53H678.98M676.53,216.84V248.22" stroke="rgb(65,65,255)" stroke-width="1.0" fill="none"/>
<path d="M681.26,244.38H687.62M684.44,229.26V250.23" stroke="rgb(65,65,255)" stroke-width="1.0" fill="none"/>
<path d="M690.08,223.36H694.95M692.52,206.27V240.45" stroke="rgb(65,65,255)" stroke-width="1.0" fill="none"/>
<path d="M698.05,223.33H704.14M701.09,205.19V241.47" stroke="rgb(65,65,255)" stroke-width="1.0" fill="none"/>
<path d="M706.77,230.75H712.33M709.55,216.31V245.19" stroke="rgb(65,65,255)" stroke-width="1.0" fill="none"/>
<path d="M715.39,223.94H719.95M717.67,208.63V239.25" stroke="rgb(65,65,255)" stroke-width="1.0" fill="none"/>
<path d="M722.65,213.79H727.25M724.95,197.29V230.29" stroke="rgb(65,65,255)" stroke-width="1.0" fill="none"/>
<path d="M729.97,224.58H734.82M732.39,202.49V246.68" stroke="rgb(65,65,255)" stroke-width="1.0" fill="none"/>
<path d="M737.07,228.12H741.50M739.29,206.56V249.68" stroke="rgb(65,65,255)" stroke-width="1.0" fill="none"/>
<path d="M564.30,170.40H573.00M568.65,130.00V210.50" stroke="rgb(65,65,255)" stroke-width="1.0" fill="none"/>
<path d="M571.80,218.60H589.50M580.65,214.00V223.00" stroke="rgb(65,65,255)" stroke-width="1.0" fill="none"/>
<path d="M576.50,222.00H579.00M577.75,195.80V242.00" stroke="rgb(65,65,255)" stroke-width="1.0" fill="none"/>
<path d="M583.40,206.00H585.80M584.60,194.00V217.60" stroke="rgb(65,65,255)" stroke-width="1.0" fill="none"/>
<path d="M581.30,251.60H590.60M585.95,242.30V262.00" stroke="rgb(65,65,255)" stroke-width="1.0" fill="none"/>
<path d="M567.40,235.40H576.00M571.70,217.30V255.00" stroke="rgb(65,65,255)" stroke-width="1.0" fill="none"/>
<path d="M592.10,210.10H596.80M594.45,195.00V224.00" stroke="rgb(65,65,255)" stroke-width="1.0" fill="none"/>
<path d="M600.50,199.00H602.50M601.50,183.70V214.00" stroke="rgb(65,65,255)" stroke-width="1.0" fill="none"/>
<path d="M603.20,224.05H605.00M604.10,216.57V231.53" stroke="rgb(65,65,255)" stroke-width="1.0" fill="none"/>
<path d="M655.80,195.00H660.20M658.00,182.00V208.00" stroke="rgb(65,65,255)" stroke-width="1.0" fill="none"/>
<path d="M657.39,208.35H662.01M659.70,189.70V227.00" stroke="rgb(65,65,255)" stroke-width="1.0" fill="none"/>
<path d="M659.33,220.50H664.67M662.00,205.00V236.00" stroke="rgb(65,65,255)" stroke-width="1.0" fill="none"/>
<path d="M661.78,229.30H666.22M664.00,214.60V244.00" stroke="rgb(65,65,255)" stroke-width="1.0" fill="none"/>
<path d="M666.74,232.30H671.26M669.00,219.00V245.60" stroke="rgb(65,65,255)" stroke-width="1.0" fill="none"/>
<path d="M669.16,219.00H673.84M671.50,208.00V230.00" stroke="rgb(65,65,255)" stroke-width="1.0" fill="none"/>
<path d="M673.57,225.50H677.43M675.50,213.00V238.00" stroke="rgb(65,65,255)" stroke-width="1.0" fill="none"/>
<path d="M674.74,233.20H679.26M677.00,220.80V245.60" stroke="rgb(65,65,255)" stroke-width="1.0" fill="none"/>
<path d="M678.62,239.35H683.38M681.00,230.00V248.70" stroke="rgb(65,65,255)" stroke-width="1.0" fill="none"/>
<path d="M683.46,228.55H688.54M686.00,217.70V239.40" stroke="rgb(65,65,255)" stroke-width="1.0" fill="none"/>
<path d="M686.16,234.80H689.84M688.00,224.00V245.60" stroke="rgb(65,65,255)" stroke-width="1.0" fill="none"/>
<path d="M689.95,242.40H694.05M692.00,233.00V251.80" stroke="rgb(65,65,255)" stroke-width="1.0" fill="none"/>
<path d="M692.16,213.00H695.84M694.00,199.00V227.00" stroke="rgb(65,65,255)" stroke-width="1.0" fill="none"/>
<path d="M693.44,225.45H698.56M696.00,211.50V239.40" stroke="rgb(65,65,255)" stroke-width="1.0" fill="none"/>
<path d="M696.56,210.00H701.44M699.00,196.00V224.00" stroke="rgb(65,65,255)" stroke-width="1.0" fill="none"/>
<path d="M700.21,227.80H703.79M702.00,214.60V241.00" stroke="rgb(65,65,255)" stroke-width="1.0" fill="none"/>
<path d="M702.27,214.50H707.73M705.00,199.00V230.00" stroke="rgb(65,65,255)" stroke-width="1.0" fill="none"/>
<path d="M706.29,203.70H711.71M709.00,189.70V217.70" stroke="rgb(65,65,255)" stroke-width="1.0" fill="none"/>
<path d="M709.60,215.25H714.40M712.00,197.50V233.00" stroke="rgb(65,65,255)" stroke-width="1.0" fill="none"/>
<path d="M713.63,230.10H718.37M716.00,214.60V245.60" stroke="rgb(65,65,255)" stroke-width="1.0" fill="none"/>
<path d="M716.09,220.80H719.91M718.00,208.40V233.20" stroke="rgb(65,65,255)" stroke-width="1.0" fill="none"/>
<path d="M720.23,210.65H723.77M722.00,199.00V222.30" stroke="rgb(65,65,255)" stroke-width="1.0" fill="none"/>
<path d="M723.72,225.45H728.28M726.00,211.50V239.40" stroke="rgb(65,65,255)" stroke-width="1.0" fill="none"/>
<path d="M727.19,216.00H730.81M729.00,202.00V230.00" stroke="rgb(65,65,255)" stroke-width="1.0" fill="none"/>
<path d="M731.06,202.80H734.94M733.00,191.00V214.60" stroke="rgb(65,65,255)" stroke-width="1.0" fill="none"/>
<path d="M734.01,206.80H737.99M736.00,199.00V214.60" stroke="rgb(65,65,255)" stroke-width="1.0" fill="none"/>
<path d="M737.22,206.85H740.78M739.00,196.00V217.70" stroke="rgb(65,65,255)" stroke-width="1.0" fill="none"/>
<path d="M640.20,238.90H645.20M642.70,224.00V243.40" stroke="rgb(65,65,255)" stroke-width="1.0" fill="none"/>
<path d="M648.90,243.40H653.30M651.10,228.00V249.60" stroke="rgb(65,65,255)" stroke-width="1.0" fill="none"/>
<path d="M664.30,244.30H669.30M666.80,228.00V250.50" stroke="rgb(65,65,255)" stroke-width="1.0" fill="none"/>
<path d="M671.70,238.00H676.10M673.90,224.00V247.00" stroke="rgb(65,65,255)" stroke-width="1.0" fill="none"/>
<path d="M678.50,241.60H683.50M681.00,226.00V248.75" stroke="rgb(65,65,255)" stroke-width="1.0" fill="none"/>
<path d="M688.20,245.20H695.40M691.80,238.00V253.20" stroke="rgb(65,65,255)" stroke-width="1.0" fill="none"/>
<path d="M704.00,240.70H708.00M706.00,226.00V247.90" stroke="rgb(65,65,255)" stroke-width="1.0" fill="none"/>
<path d="M707.40,246.00H710.60M709.00,230.00V262.00" stroke="rgb(65,65,255)" stroke-width="1.0" fill="none"/>
<path d="M714.00,245.70H719.60M716.80,228.00V262.00" stroke="rgb(65,65,255)" stroke-width="1.0" fill="none"/>
<path d="M719.25,238.00H723.25M721.25,220.00V262.00" stroke="rgb(65,65,255)" stroke-width="1.0" fill="none"/>
<path d="M720.40,240.70H729.20M724.80,224.00V256.00" stroke="rgb(65,65,255)" stroke-width="1.0" fill="none"/>
<path d="M725.50,236.00H729.50M727.50,218.00V262.00" stroke="rgb(65,65,255)" stroke-width="1.0" fill="none"/>
<path d="M733.70,246.40H741.10M737.40,239.00V262.00" stroke="rgb(65,65,255)" stroke-width="1.0" fill="none"/>
<line x1="432.50" y1="233.40" x2="741.50" y2="233.40" stroke="rgb(110,240,110)" stroke-width="1.2"/>
</g>
<g clip-path="url(#cu396)">
<path d="M432.70,153.84H435.00M433.85,148.34V161.60" stroke="rgb(255,55,55)" stroke-width="1.0" fill="none"/>
<path d="M436.50,165.54H441.70M439.10,160.25V169.67" stroke="rgb(255,55,55)" stroke-width="1.0" fill="none"/>
<path d="M441.00,158.67H444.70M442.85,155.00V161.95" stroke="rgb(255,55,55)" stroke-width="1.0" fill="none"/>
<path d="M444.00,155.87H445.50M444.75,152.92V164.32" stroke="rgb(255,55,55)" stroke-width="1.0" fill="none"/>
<path d="M445.50,151.28H448.50M447.00,149.45V159.84" stroke="rgb(255,55,55)" stroke-width="1.0" fill="none"/>
<path d="M447.40,139.01H450.30M448.85,134.64V144.22" stroke="rgb(255,55,55)" stroke-width="1.0" fill="none"/>
<path d="M449.80,144.82H451.60M450.70,140.52V148.57" stroke="rgb(255,55,55)" stroke-width="1.0" fill="none"/>
<path d="M450.00,147.47H454.50M452.25,142.41V153.05" stroke="rgb(255,55,55)" stroke-width="1.0" fill="none"/>
<path d="M453.50,151.78H455.50M454.50,146.63V155.73" stroke="rgb(255,55,55)" stroke-width="1.0" fill="none"/>
<path d="M455.70,151.89H457.70M456.70,147.70V156.94" stroke="rgb(255,55,55)" stroke-width="1.0" fill="none"/>
<path d="M458.00,148.26H460.60M459.30,143.71V154.41" stroke="rgb(255,55,55)" stroke-width="1.0" fill="none"/>
<path d="M461.20,148.38H464.20M462.70,144.19V158.44" stroke="rgb(255,55,55)" stroke-width="1.0" fill="none"/>
<path d="M464.20,155.86H469.50M466.85,150.89V161.20" stroke="rgb(255,55,55)" stroke-width="1.0" fill="none"/>
<path d="M467.70,158.22H469.70M468.70,153.81V165.86" stroke="rgb(255,55,55)" stroke-width="1.0" fill="none"/>
<path d="M469.50,151.77H473.70M471.60,146.62V156.54" stroke="rgb(255,55,55)" stroke-width="1.0" fill="none"/>
<path d="M469.10,146.81H480.60M474.85,142.66V151.71" stroke="rgb(255,55,55)" stroke-width="1.0" fill="none"/>
<path d="M473.20,161.05H478.50M475.85,156.83V167.65" stroke="rgb(255,55,55)" stroke-width="1.0" fill="none"/>
<path d="M477.70,160.96H484.50M481.10,155.96V166.50" stroke="rgb(255,55,55)" stroke-width="1.0" fill="none"/>
<path d="M480.70,155.24H494.20M487.45,150.56V165.55" stroke="rgb(255,55,55)" stroke-width="1.0" fill="none"/>
<path d="M486.00,160.15H492.70M489.35,154.05V167.75" stroke="rgb(255,55,55)" stroke-width="1.0" fill="none"/>
<path d="M492.70,157.85H502.00M497.35,148.66V164.64" stroke="rgb(255,55,55)" stroke-width="1.0" fill="none"/>
<path d="M500.00,157.80H505.20M502.60,148.92V178.19" stroke="rgb(255,55,55)" stroke-width="1.0" fill="none"/>
<path d="M505.00,148.42H515.00M510.00,142.78V152.63" stroke="rgb(255,55,55)" stroke-width="1.0" fill="none"/>
<path d="M507.10,151.88H512.90M510.00,147.81V157.99" stroke="rgb(255,55,55)" stroke-width="1.0" fill="none"/>
<path d="M500.00,166.73H518.00M509.00,158.01V178.16" stroke="rgb(255,55,55)" stroke-width="1.0" fill="none"/>
<path d="M514.20,161.92H530.00M522.10,158.46V176.05" stroke="rgb(255,55,55)" stroke-width="1.0" fill="none"/>
<path d="M522.50,164.51H535.20M528.85,156.90V174.23" stroke="rgb(255,55,55)" stroke-width="1.0" fill="none"/>
<path d="M528.50,158.57H540.00M534.25,153.11V168.77" stroke="rgb(255,55,55)" stroke-width="1.0" fill="none"/>
<path d="M536.00,153.88H550.20M543.10,147.70V162.92" stroke="rgb(255,55,55)" stroke-width="1.0" fill="none"/>
<path d="M546.20,138.96H564.30M555.25,134.12V144.66" stroke="rgb(255,55,55)" stroke-width="1.0" fill="none"/>
<path d="M546.00,154.59H553.60M549.80,148.55V163.24" stroke="rgb(255,55,55)" stroke-width="1.0" fill="none"/>
<path d="M549.80,158.54H565.10M557.45,150.13V168.61" stroke="rgb(255,55,55)" stroke-width="1.0" fill="none"/>
<path d="M565.00,141.59H576.00M570.50,130.71V145.04" stroke="rgb(255,55,55)" stroke-width="1.0" fill="none"/>
<path d="M564.30,137.25H576.00M570.15,133.10V142.48" stroke="rgb(255,55,55)" stroke-width="1.0" fill="none"/>
<path d="M576.00,128.38H582.00M579.00,123.12V135.50" stroke="rgb(255,55,55)" stroke-width="1.0" fill="none"/>
<path d="M580.00,129.98H587.00M583.50,122.40V139.96" stroke="rgb(255,55,55)" stroke-width="1.0" fill="none"/>
<path d="M583.00,114.75H587.00M585.00,110.36V120.47" stroke="rgb(255,55,55)" stroke-width="1.0" fill="none"/>
<path d="M587.00,114.29H592.00M589.50,108.97V121.55" stroke="rgb(255,55,55)" stroke-width="1.0" fill="none"/>
<path d="M591.00,112.46H595.00M593.00,106.47V121.01" stroke="rgb(255,55,55)" stroke-width="1.0" fill="none"/>
<path d="M595.00,98.60H599.00M597.00,93.80V104.90" stroke="rgb(255,55,55)" stroke-width="1.0" fill="none"/>
<path d="M598.00,98.31H601.00M599.50,92.46V106.57" stroke="rgb(255,55,55)" stroke-width="1.0" fill="none"/>
<path d="M600.00,90.89H603.00M601.50,86.56V97.07" stroke="rgb(255,55,55)" stroke-width="1.0" fill="none"/>
<path d="M603.40,64.88H604.80M604.10,62.56V67.50" stroke="rgb(255,55,55)" stroke-width="1.0" fill="none"/>
<path d="M605.50,78.62H607.50M606.50,74.85V83.78" stroke="rgb(255,55,55)" stroke-width="1.0" fill="none"/>
<path d="M605.40,74.00H610.20M607.80,69.33V79.92" stroke="rgb(255,55,55)" stroke-width="1.0" fill="none"/>
<path d="M608.00,91.32H611.00M609.50,85.47V100.53" stroke="rgb(255,55,55)" stroke-width="1.0" fill="none"/>
<path d="M611.00,104.24H615.00M613.00,99.42V111.28" stroke="rgb(255,55,55)" stroke-width="1.0" fill="none"/>
<path d="M614.00,101.47H618.00M616.00,96.85V107.46" stroke="rgb(255,55,55)" stroke-width="1.0" fill="none"/>
<path d="M579.72,124.50H585.28M582.50,119.27V131.58" stroke="rgb(65,65,255)" stroke-width="1.0" fill="none"/>
<path d="M582.54,130.28H588.85M585.69,122.60V133.97" stroke="rgb(65,65,255)" stroke-width="1.0" fill="none"/>
<path d="M585.14,114.84H591.50M588.32,109.95V121.30" stroke="rgb(65,65,255)" stroke-width="1.0" fill="none"/>
<path d="M589.13,113.01H593.74M591.44,107.39V120.80" stroke="rgb(65,65,255)" stroke-width="1.0" fill="none"/>
<path d="M592.45,108.88H596.49M594.47,102.75V117.72" stroke="rgb(65,65,255)" stroke-width="1.0" fill="none"/>
<path d="M596.12,93.79H598.36M597.24,90.40V97.86" stroke="rgb(65,65,255)" stroke-width="1.0" fill="none"/>
<path d="M598.22,86.94H601.15M599.68,83.37V91.28" stroke="rgb(65,65,255)" stroke-width="1.0" fill="none"/>
<path d="M600.42,92.06H602.74M601.58,86.09V100.57" stroke="rgb(65,65,255)" stroke-width="1.0" fill="none"/>
<path d="M602.95,79.46H605.39M604.17,73.62V87.09" stroke="rgb(65,65,255)" stroke-width="1.0" fill="none"/>
<path d="M605.03,84.49H608.44M606.74,77.98V94.16" stroke="rgb(65,65,255)" stroke-width="1.0" fill="none"/>
<path d="M607.42,87.90H610.76M609.09,83.15V94.11" stroke="rgb(65,65,255)" stroke-width="1.0" fill="none"/>
<path d="M610.08,93.58H612.18M611.13,88.47V100.44" stroke="rgb(65,65,255)" stroke-width="1.0" fill="none"/>
<path d="M612.17,106.55H614.17M613.17,100.27V115.71" stroke="rgb(65,65,255)" stroke-width="1.0" fill="none"/>
<path d="M614.15,102.75H616.87M615.51,98.05V108.88" stroke="rgb(65,65,255)" stroke-width="1.0" fill="none"/>
<path d="M614.69,104.33H620.45M617.57,98.75V112.06" stroke="rgb(65,65,255)" stroke-width="1.0" fill="none"/>
<path d="M617.16,104.02H623.27M620.21,98.17V112.28" stroke="rgb(65,65,255)" stroke-width="1.0" fill="none"/>
<path d="M620.37,99.79H625.28M622.83,95.59V105.09" stroke="rgb(65,65,255)" stroke-width="1.0" fill="none"/>
<path d="M622.69,96.62H629.08M625.89,90.99V104.46" stroke="rgb(65,65,255)" stroke-width="1.0" fill="none"/>
<path d="M625.48,94.91H631.81M628.65,89.44V102.44" stroke="rgb(65,65,255)" stroke-width="1.0" fill="none"/>
<path d="M628.63,87.83H634.57M631.60,82.67V94.79" stroke="rgb(65,65,255)" stroke-width="1.0" fill="none"/>
<path d="M630.89,81.39H636.88M633.89,78.17V85.23" stroke="rgb(65,65,255)" stroke-width="1.0" fill="none"/>
<path d="M634.35,82.02H639.20M636.77,76.38V89.87" stroke="rgb(65,65,255)" stroke-width="1.0" fill="none"/>
<path d="M637.04,83.25H641.89M639.46,78.07V90.24" stroke="rgb(65,65,255)" stroke-width="1.0" fill="none"/>
<path d="M640.18,78.80H644.62M642.40,74.40V84.44" stroke="rgb(65,65,255)" stroke-width="1.0" fill="none"/>
<path d="M641.80,75.85H647.53M644.66,69.82V84.48" stroke="rgb(65,65,255)" stroke-width="1.0" fill="none"/>
<path d="M644.99,73.31H650.33M647.66,68.97V78.85" stroke="rgb(65,65,255)" stroke-width="1.0" fill="none"/>
<path d="M647.44,75.15H652.93M650.19,70.52V81.15" stroke="rgb(65,65,255)" stroke-width="1.0" fill="none"/>
<path d="M649.90,69.42H656.19M653.05,64.52V75.89" stroke="rgb(65,65,255)" stroke-width="1.0" fill="none"/>
<path d="M652.23,69.60H658.32M655.27,64.04V77.28" stroke="rgb(65,65,255)" stroke-width="1.0" fill="none"/>
<path d="M654.59,75.37H660.56M657.58,68.43V81.79" stroke="rgb(65,65,255)" stroke-width="1.0" fill="none"/>
<path d="M657.68,64.22H662.05M659.86,56.72V76.29" stroke="rgb(65,65,255)" stroke-width="1.0" fill="none"/>
<path d="M659.67,57.65H665.80M662.74,52.63V64.34" stroke="rgb(65,65,255)" stroke-width="1.0" fill="none"/>
<path d="M663.11,63.61H668.33M665.72,56.90V73.72" stroke="rgb(65,65,255)" stroke-width="1.0" fill="none"/>
<path d="M666.32,64.28H670.69M668.50,56.38V76.35" stroke="rgb(65,65,255)" stroke-width="1.0" fill="none"/>
<path d="M667.81,67.32H674.21M671.01,60.70V75.30" stroke="rgb(65,65,255)" stroke-width="1.0" fill="none"/>
<path d="M671.37,62.72H676.05M673.71,54.99V74.41" stroke="rgb(65,65,255)" stroke-width="1.0" fill="none"/>
<path d="M674.08,61.07H678.98M676.53,54.12V71.73" stroke="rgb(65,65,255)" stroke-width="1.0" fill="none"/>
<path d="M676.41,67.77H682.31M679.36,58.22V72.82" stroke="rgb(65,65,255)" stroke-width="1.0" fill="none"/>
<path d="M679.50,59.76H684.20M681.85,53.72V68.40" stroke="rgb(65,65,255)" stroke-width="1.0" fill="none"/>
<path d="M681.26,66.37H687.62M684.44,57.22V71.43" stroke="rgb(65,65,255)" stroke-width="1.0" fill="none"/>
<path d="M685.15,59.04H689.17M687.16,52.36V69.09" stroke="rgb(65,65,255)" stroke-width="1.0" fill="none"/>
<path d="M686.78,53.41H692.82M689.80,47.26V62.28" stroke="rgb(65,65,255)" stroke-width="1.0" fill="none"/>
<path d="M690.08,52.37H694.95M692.52,46.15V61.41" stroke="rgb(65,65,255)" stroke-width="1.0" fill="none"/>
<path d="M698.05,50.39H704.14M701.09,43.85V60.12" stroke="rgb(65,65,255)" stroke-width="1.0" fill="none"/>
<path d="M706.77,52.38H712.33M709.55,46.15V61.42" stroke="rgb(65,65,255)" stroke-width="1.0" fill="none"/>
<path d="M715.39,47.97H719.95M717.67,42.25V55.96" stroke="rgb(65,65,255)" stroke-width="1.0" fill="none"/>
<path d="M722.65,43.23H727.25M724.95,38.09V50.14" stroke="rgb(65,65,255)" stroke-width="1.0" fill="none"/>
<path d="M729.97,46.69H734.82M732.39,38.79V59.83" stroke="rgb(65,65,255)" stroke-width="1.0" fill="none"/>
<path d="M737.07,47.56H741.50M739.29,39.30V61.79" stroke="rgb(65,65,255)" stroke-width="1.0" fill="none"/>
<path d="M564.30,125.29H573.00M568.65,118.46V135.60" stroke="rgb(65,65,255)" stroke-width="1.0" fill="none"/>
<path d="M571.80,122.95H589.50M580.65,121.24V124.73" stroke="rgb(65,65,255)" stroke-width="1.0" fill="none"/>
<path d="M576.50,127.62H579.00M577.75,118.93V138.28" stroke="rgb(65,65,255)" stroke-width="1.0" fill="none"/>
<path d="M583.40,112.85H585.80M584.60,109.41V116.84" stroke="rgb(65,65,255)" stroke-width="1.0" fill="none"/>
<path d="M581.30,134.87H590.60M585.95,126.89V150.65" stroke="rgb(65,65,255)" stroke-width="1.0" fill="none"/>
<path d="M567.40,137.72H576.00M571.70,129.37V154.03" stroke="rgb(65,65,255)" stroke-width="1.0" fill="none"/>
<path d="M592.10,98.72H596.80M594.45,94.23V103.98" stroke="rgb(65,65,255)" stroke-width="1.0" fill="none"/>
<path d="M600.50,79.96H602.50M601.50,76.05V84.70" stroke="rgb(65,65,255)" stroke-width="1.0" fill="none"/>
<path d="M603.20,70.49H605.00M604.10,67.49V74.01" stroke="rgb(65,65,255)" stroke-width="1.0" fill="none"/>
<path d="M691.45,64.70H695.95M693.70,58.30V71.10" stroke="rgb(65,65,255)" stroke-width="1.0" fill="none"/>
<path d="M692.95,46.50H697.45M695.20,43.30V54.00" stroke="rgb(65,65,255)" stroke-width="1.0" fill="none"/>
<path d="M695.15,50.80H699.65M697.40,45.40V56.10" stroke="rgb(65,65,255)" stroke-width="1.0" fill="none"/>
<path d="M697.85,48.60H702.35M700.10,41.10V54.00" stroke="rgb(65,65,255)" stroke-width="1.0" fill="none"/>
<path d="M700.45,49.70H704.95M702.70,44.30V55.00" stroke="rgb(65,65,255)" stroke-width="1.0" fill="none"/>
<path d="M703.65,56.10H708.15M705.90,51.80V66.80" stroke="rgb(65,65,255)" stroke-width="1.0" fill="none"/>
<path d="M705.75,44.30H710.25M708.00,37.90V52.90" stroke="rgb(65,65,255)" stroke-width="1.0" fill="none"/>
<path d="M706.85,62.50H711.35M709.10,54.00V76.50" stroke="rgb(65,65,255)" stroke-width="1.0" fill="none"/>
<path d="M710.05,45.40H714.55M712.30,40.00V54.00" stroke="rgb(65,65,255)" stroke-width="1.0" fill="none"/>
<path d="M714.35,60.40H718.85M716.60,54.00V77.50" stroke="rgb(65,65,255)" stroke-width="1.0" fill="none"/>
<path d="M717.55,45.40H722.05M719.80,39.00V51.80" stroke="rgb(65,65,255)" stroke-width="1.0" fill="none"/>
<path d="M720.75,49.70H725.25M723.00,42.20V58.30" stroke="rgb(65,65,255)" stroke-width="1.0" fill="none"/>
<path d="M724.05,52.90H728.55M726.30,47.60V58.30" stroke="rgb(65,65,255)" stroke-width="1.0" fill="none"/>
<path d="M726.55,50.80H731.05M728.80,45.40V56.00" stroke="rgb(65,65,255)" stroke-width="1.0" fill="none"/>
<path d="M729.35,40.00H733.85M731.60,34.70V47.60" stroke="rgb(65,65,255)" stroke-width="1.0" fill="none"/>
<path d="M734.25,38.60H738.75M736.50,32.60V45.40" stroke="rgb(65,65,255)" stroke-width="1.0" fill="none"/>
<path d="M736.75,72.00H741.25M739.00,65.80V84.00" stroke="rgb(65,65,255)" stroke-width="1.0" fill="none"/>
<path d="M432.50,166.00 C438.92,165.83 458.75,165.58 471.00,165.00 C483.25,164.42 491.83,163.42 506.00,162.50 C520.17,161.58 543.67,160.65 556.00,159.50 C568.33,158.35 569.33,156.63 580.00,155.60 C590.67,154.57 608.00,154.12 620.00,153.30 C632.00,152.48 641.28,151.50 652.00,150.70 C662.72,149.90 673.55,149.13 684.30,148.50 C695.05,147.87 706.97,147.43 716.50,146.90 C726.03,146.37 737.33,145.57 741.50,145.30" fill="none" stroke="#000" stroke-width="0.8" stroke-dasharray="5,2,1,2,1,2"/>
<path d="M441.00,168.50 L444.00,165.00 L448.00,160.50 L451.00,158.50 L453.00,157.80 L455.00,160.00 L457.00,158.80 L459.00,161.00 L462.00,165.00 L465.00,168.50" fill="none" stroke="#000" stroke-width="0.8" stroke-dasharray="4,2,1,2" stroke-linejoin="round"/>
<path d="M620.00,121.80 C622.15,121.00 628.62,118.88 632.90,117.00 C637.18,115.12 640.88,112.48 645.70,110.50 C650.52,108.52 656.43,106.53 661.80,105.10 C667.17,103.67 671.47,102.87 677.90,101.90 C684.33,100.93 693.97,100.00 700.40,99.30 C706.83,98.60 709.73,98.35 716.50,97.70 C723.27,97.05 736.92,95.78 741.00,95.40" fill="none" stroke="#222" stroke-width="1.0" stroke-dasharray="6.5,3.5"/>
<path d="M562.50,168.50 L575.00,146.00 L590.00,132.50 L597.00,124.70 L603.50,111.00" fill="none" stroke="#222" stroke-width="0.9" stroke-dasharray="5,3" stroke-linejoin="round"/>
<path d="M613.10,123.10 L619.60,123.10 L622.00,119.00" fill="none" stroke="#000" stroke-width="0.85" stroke-linejoin="round"/>
<path d="M603.50,111.00 L606.00,104.00" fill="none" stroke="#000" stroke-width="0.85" stroke-linejoin="round"/>
<path d="M586.40,168.50 L589.00,158.00 L593.00,140.00 L598.00,122.00 L602.00,111.00 L605.00,104.00 L607.50,100.50 L610.00,107.00 L613.00,119.00 L614.70,134.40" fill="none" stroke="#000" stroke-width="0.85" stroke-linejoin="round"/>
<path d="M614.70,134.40 C615.17,133.00 616.38,128.57 617.50,126.00 C618.62,123.43 620.22,121.28 621.40,119.00 C622.58,116.72 623.22,114.85 624.60,112.30 C625.98,109.75 627.98,106.55 629.70,103.70 C631.42,100.85 632.90,98.05 634.90,95.20 C636.90,92.35 639.28,89.32 641.70,86.60 C644.12,83.88 647.02,81.00 649.40,78.90 C651.78,76.80 653.90,75.43 656.00,74.00 C658.10,72.57 659.33,71.72 662.00,70.30 C664.67,68.88 668.67,66.87 672.00,65.50 C675.33,64.13 678.67,63.13 682.00,62.10 C685.33,61.07 688.67,60.13 692.00,59.30 C695.33,58.47 698.00,57.90 702.00,57.10 C706.00,56.30 709.42,55.47 716.00,54.50 C722.58,53.53 737.25,51.83 741.50,51.30" fill="none" stroke="#000" stroke-width="0.85"/>
<path d="M436.80,166.00 L436.80,155.00 L448.00,155.00 L448.00,151.50 L458.00,151.50 L458.00,152.50 L466.00,152.50 L466.00,157.00 L476.00,157.00 L476.00,160.00 L486.00,160.20 L536.00,159.50 L536.00,157.00 L556.00,157.00 L556.00,152.00 L568.00,152.00 L568.00,140.00 L576.00,140.00 L576.00,131.00 L584.00,131.00 L584.00,121.00 L589.00,121.00 L589.00,114.00 L594.00,114.00 L594.00,108.00 L599.00,108.00 L599.00,96.00 L603.30,96.00 L603.30,77.00 L604.80,77.00 L604.80,90.00 L609.00,90.00 L609.00,95.00 L613.00,95.00 L613.00,108.00 L618.00,108.00 L618.00,105.00 L621.00,105.00" fill="none" stroke="rgb(0,236,120)" stroke-width="1.5" stroke-linejoin="round"/>
<path d="M432.50,158.00 L436.40,158.00 L436.40,166.50 L440.80,166.50 L440.80,154.40 L444.50,154.40 L444.50,152.50 L448.90,152.50 L448.90,147.50 L453.90,147.50 L453.90,150.60 L457.60,150.60 L457.60,150.00 L460.80,150.00 L460.80,151.20 L468.50,151.20 L468.50,155.80 L473.00,155.80 L473.00,158.00 L478.00,158.00 L478.00,160.60 L506.00,160.80 L531.00,160.30 L531.00,155.70 L546.00,155.70 L546.00,153.00 L565.00,153.00 L565.00,138.00 L572.00,138.00 L572.00,135.00 L581.00,135.00 L581.00,127.00 L586.00,127.00 L586.00,117.50 L591.00,117.50 L591.00,111.00 L595.00,111.00 L595.00,105.00 L597.50,105.00 L597.50,93.00 L602.90,93.00 L602.90,74.00 L605.50,74.00 L605.50,83.50 L607.40,83.50 L607.40,87.00 L610.00,87.00 L610.00,92.00 L611.10,92.00 L611.10,106.40 L618.30,106.40 L618.30,105.00 L622.60,105.00 L622.60,101.40 L625.40,101.40 L625.40,99.00" fill="none" stroke="rgb(0,236,120)" stroke-width="1.6" stroke-linejoin="round"/>
<path d="M625.40,99.00 C626.12,98.25 628.52,95.83 629.70,94.50 C630.88,93.17 631.45,92.33 632.50,91.00 C633.55,89.67 634.47,88.17 636.00,86.50 C637.53,84.83 640.03,82.50 641.70,81.00 C643.37,79.50 644.12,78.92 646.00,77.50 C647.88,76.08 650.33,74.25 653.00,72.50 C655.67,70.75 658.83,68.62 662.00,67.00 C665.17,65.38 668.67,63.97 672.00,62.80 C675.33,61.63 678.67,60.92 682.00,60.00 C685.33,59.08 688.67,58.13 692.00,57.30 C695.33,56.47 698.00,55.77 702.00,55.00 C706.00,54.23 709.42,53.53 716.00,52.70 C722.58,51.87 737.25,50.45 741.50,50.00" fill="none" stroke="rgb(0,236,120)" stroke-width="1.8"/>
</g>
</svg></body></html>
